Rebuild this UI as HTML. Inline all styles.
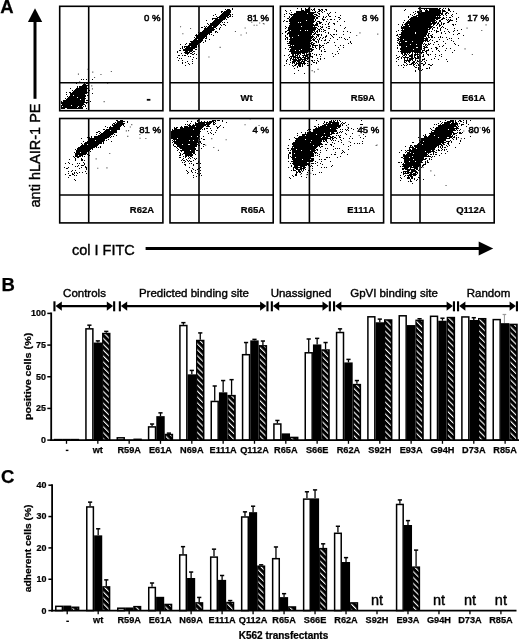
<!DOCTYPE html>
<html><head><meta charset="utf-8"><style>
html,body{margin:0;padding:0;background:#fff;width:520px;height:639px;overflow:hidden}
svg{display:block;filter:grayscale(1)}
text{font-family:"Liberation Sans", sans-serif;fill:#000}
text[font-weight=bold]{stroke:#000;stroke-width:0.25px}
</style></head><body>
<svg width="520" height="639" viewBox="0 0 520 639" font-family='"Liberation Sans", sans-serif'>
<g id="scatter">
<path d="M81 79h1v1h-1zM83 79h1v1h-1zM86 79h1v1h-1zM92 79h1v1h-1zM84 82h1v1h-1zM88 82h1v1h-1zM76 83h1v1h-1zM84 83h1v1h-1zM86 83h2v1h-2zM83 84h3v1h-3zM88 84h1v1h-1zM82 85h6v1h-6zM77 86h1v1h-1zM79 86h8v1h-8zM77 87h1v1h-1zM79 87h8v1h-8zM70 88h1v1h-1zM76 88h12v1h-12zM75 89h12v1h-12zM72 90h1v1h-1zM74 90h13v1h-13zM89 90h1v1h-1zM73 91h14v1h-14zM66 92h1v1h-1zM69 92h2v1h-2zM72 92h16v1h-16zM70 93h17v1h-17zM92 93h1v1h-1zM66 94h1v1h-1zM70 94h15v1h-15zM70 95h3v1h-3zM74 95h12v1h-12zM87 95h1v1h-1zM67 96h1v1h-1zM69 96h17v1h-17zM68 97h9v1h-9zM78 97h7v1h-7zM65 98h1v1h-1zM67 98h19v1h-19zM66 99h14v1h-14zM81 99h4v1h-4zM63 100h22v1h-22zM86 100h2v1h-2zM61 101h1v1h-1zM63 101h22v1h-22zM90 101h1v1h-1zM61 102h27v1h-27zM61 103h23v1h-23zM86 103h1v1h-1zM62 104h23v1h-23zM61 105h10v1h-10zM72 105h11v1h-11zM85 105h1v1h-1zM61 106h1v1h-1zM63 106h15v1h-15zM79 106h3v1h-3zM83 106h1v1h-1zM85 106h1v1h-1zM61 107h16v1h-16zM78 107h5v1h-5zM61 108h4v1h-4zM67 108h16v1h-16zM86 108h1v1h-1z" fill="#000"/>
<path d="M100.4 74.0h1.1v1.1h-1.1zM110.8 70.9h1.1v1.1h-1.1zM107.1 82.6h1.1v1.1h-1.1zM91.9 88.3h1.1v1.1h-1.1zM91.2 85.3h1.1v1.1h-1.1zM92.2 71.6h1.1v1.1h-1.1zM103.6 101.1h1.1v1.1h-1.1zM94.0 76.9h1.1v1.1h-1.1zM79.1 81.3h1.1v1.1h-1.1zM77.9 73.6h1.1v1.1h-1.1zM87.4 68.7h1.1v1.1h-1.1z" fill="#555"/>
<path d="M232 8h1v1h-1zM225 9h1v1h-1zM227 9h3v1h-3zM232 9h1v1h-1zM226 10h5v1h-5zM221 11h2v1h-2zM224 11h7v1h-7zM221 12h1v1h-1zM223 12h8v1h-8zM222 13h8v1h-8zM215 14h1v1h-1zM221 14h10v1h-10zM232 14h1v1h-1zM213 15h1v1h-1zM220 15h9v1h-9zM230 15h1v1h-1zM216 16h1v1h-1zM219 16h9v1h-9zM229 16h2v1h-2zM232 16h1v1h-1zM217 17h9v1h-9zM227 17h2v1h-2zM212 18h6v1h-6zM219 18h7v1h-7zM212 19h1v1h-1zM215 19h10v1h-10zM226 19h1v1h-1zM206 20h1v1h-1zM214 20h9v1h-9zM213 21h9v1h-9zM212 22h9v1h-9zM222 22h1v1h-1zM224 22h1v1h-1zM227 22h1v1h-1zM207 23h1v1h-1zM210 23h10v1h-10zM208 24h1v1h-1zM210 24h9v1h-9zM220 24h1v1h-1zM223 24h2v1h-2zM209 25h9v1h-9zM221 25h1v1h-1zM225 25h1v1h-1zM204 26h1v1h-1zM206 26h1v1h-1zM208 26h4v1h-4zM213 26h4v1h-4zM201 27h2v1h-2zM205 27h1v1h-1zM207 27h9v1h-9zM220 27h1v1h-1zM204 28h10v1h-10zM216 28h1v1h-1zM219 28h1v1h-1zM204 29h11v1h-11zM219 29h1v1h-1zM203 30h11v1h-11zM202 31h10v1h-10zM215 31h2v1h-2zM198 32h1v1h-1zM200 32h12v1h-12zM215 32h1v1h-1zM217 32h1v1h-1zM199 33h11v1h-11zM196 34h1v1h-1zM198 34h10v1h-10zM209 34h1v1h-1zM211 34h1v1h-1zM195 35h12v1h-12zM213 35h1v1h-1zM196 36h11v1h-11zM194 37h1v1h-1zM196 37h9v1h-9zM206 37h1v1h-1zM195 38h9v1h-9zM205 38h2v1h-2zM194 39h3v1h-3zM198 39h5v1h-5zM209 39h1v1h-1zM193 40h10v1h-10zM205 40h1v1h-1zM190 41h12v1h-12zM205 41h1v1h-1zM191 42h10v1h-10zM203 42h1v1h-1zM186 43h1v1h-1zM189 43h10v1h-10zM180 44h1v1h-1zM185 44h1v1h-1zM189 44h9v1h-9zM188 45h9v1h-9zM198 45h1v1h-1zM182 46h1v1h-1zM184 46h6v1h-6zM191 46h6v1h-6zM198 46h1v1h-1zM182 47h1v1h-1zM184 47h1v1h-1zM186 47h11v1h-11zM180 48h1v1h-1zM182 48h1v1h-1zM185 48h10v1h-10zM183 49h10v1h-10zM195 49h2v1h-2zM179 50h2v1h-2zM183 50h10v1h-10zM177 51h1v1h-1zM185 51h3v1h-3zM189 51h3v1h-3zM193 51h2v1h-2zM177 52h1v1h-1zM184 52h6v1h-6zM192 52h1v1h-1zM181 53h1v1h-1zM185 53h4v1h-4zM190 53h2v1h-2zM194 53h1v1h-1zM187 54h1v1h-1zM192 54h2v1h-2zM196 54h1v1h-1zM178 55h2v1h-2zM182 55h1v1h-1zM184 55h2v1h-2zM188 56h1v1h-1zM190 56h1v1h-1zM177 57h1v1h-1zM193 57h1v1h-1zM179 58h1v1h-1zM181 58h1v1h-1zM196 58h1v1h-1zM192 59h1v1h-1zM178 60h1v1h-1zM182 60h1v1h-1zM187 61h1v1h-1zM192 61h1v1h-1zM182 62h1v1h-1zM185 62h1v1h-1zM182 63h1v1h-1zM188 63h1v1h-1zM192 63h1v1h-1zM189 64h1v1h-1zM185 65h1v1h-1z" fill="#000"/>
<path d="M190.0 27.9h1.1v1.1h-1.1zM180.0 26.2h1.1v1.1h-1.1zM182.3 33.2h1.1v1.1h-1.1zM253.6 24.7h1.1v1.1h-1.1zM262.8 23.0h1.1v1.1h-1.1zM261.0 20.5h1.1v1.1h-1.1zM251.2 21.6h1.1v1.1h-1.1zM263.6 23.4h1.1v1.1h-1.1zM256.3 24.7h1.1v1.1h-1.1zM259.1 22.4h1.1v1.1h-1.1zM245.9 32.4h1.1v1.1h-1.1zM234.9 30.9h1.1v1.1h-1.1zM240.5 34.5h1.1v1.1h-1.1zM244.6 27.5h1.1v1.1h-1.1zM219.6 46.8h1.1v1.1h-1.1zM208.4 56.4h1.1v1.1h-1.1z" fill="#555"/>
<path d="M297 8h1v1h-1zM301 8h1v1h-1zM305 8h1v1h-1zM308 8h2v1h-2zM314 8h1v1h-1zM301 9h1v1h-1zM305 9h4v1h-4zM311 9h1v1h-1zM313 9h2v1h-2zM318 9h2v1h-2zM321 9h2v1h-2zM325 9h2v1h-2zM285 10h1v1h-1zM290 10h1v1h-1zM301 10h3v1h-3zM305 10h5v1h-5zM312 10h1v1h-1zM314 10h1v1h-1zM319 10h2v1h-2zM322 10h1v1h-1zM326 10h1v1h-1zM286 11h1v1h-1zM296 11h14v1h-14zM315 11h1v1h-1zM318 11h2v1h-2zM321 11h1v1h-1zM324 11h1v1h-1zM291 12h1v1h-1zM296 12h20v1h-20zM317 12h1v1h-1zM322 12h1v1h-1zM330 12h1v1h-1zM335 12h1v1h-1zM286 13h1v1h-1zM289 13h1v1h-1zM294 13h13v1h-13zM308 13h6v1h-6zM318 13h2v1h-2zM327 13h1v1h-1zM329 13h1v1h-1zM284 14h1v1h-1zM290 14h23v1h-23zM314 14h3v1h-3zM319 14h1v1h-1zM328 14h1v1h-1zM291 15h1v1h-1zM293 15h21v1h-21zM316 15h2v1h-2zM328 15h1v1h-1zM340 15h1v1h-1zM284 16h1v1h-1zM289 16h1v1h-1zM292 16h24v1h-24zM318 16h2v1h-2zM323 16h1v1h-1zM326 16h1v1h-1zM329 16h2v1h-2zM335 16h1v1h-1zM289 17h1v1h-1zM291 17h24v1h-24zM316 17h2v1h-2zM323 17h1v1h-1zM325 17h1v1h-1zM338 17h2v1h-2zM287 18h2v1h-2zM290 18h25v1h-25zM316 18h2v1h-2zM322 18h1v1h-1zM340 18h1v1h-1zM289 19h25v1h-25zM315 19h1v1h-1zM322 19h3v1h-3zM327 19h1v1h-1zM330 19h2v1h-2zM334 19h1v1h-1zM339 19h1v1h-1zM284 20h1v1h-1zM289 20h17v1h-17zM307 20h7v1h-7zM315 20h1v1h-1zM323 20h1v1h-1zM283 21h1v1h-1zM286 21h2v1h-2zM289 21h26v1h-26zM317 21h3v1h-3zM326 21h1v1h-1zM337 21h1v1h-1zM344 21h1v1h-1zM290 22h8v1h-8zM299 22h1v1h-1zM301 22h13v1h-13zM316 22h1v1h-1zM319 22h3v1h-3zM329 22h1v1h-1zM289 23h24v1h-24zM316 23h2v1h-2zM319 23h2v1h-2zM328 23h1v1h-1zM333 23h2v1h-2zM290 24h24v1h-24zM315 24h3v1h-3zM322 24h1v1h-1zM325 24h1v1h-1zM328 24h1v1h-1zM334 24h1v1h-1zM289 25h29v1h-29zM340 25h1v1h-1zM285 26h1v1h-1zM289 26h12v1h-12zM302 26h11v1h-11zM314 26h1v1h-1zM318 26h1v1h-1zM320 26h1v1h-1zM322 26h1v1h-1zM328 26h2v1h-2zM286 27h1v1h-1zM288 27h29v1h-29zM321 27h2v1h-2zM326 27h1v1h-1zM345 27h1v1h-1zM285 28h1v1h-1zM288 28h28v1h-28zM317 28h1v1h-1zM320 28h1v1h-1zM328 28h2v1h-2zM344 28h1v1h-1zM288 29h28v1h-28zM318 29h2v1h-2zM321 29h1v1h-1zM323 29h1v1h-1zM334 29h1v1h-1zM287 30h3v1h-3zM291 30h9v1h-9zM301 30h4v1h-4zM306 30h1v1h-1zM308 30h7v1h-7zM317 30h1v1h-1zM319 30h1v1h-1zM324 30h2v1h-2zM336 30h1v1h-1zM285 31h2v1h-2zM289 31h24v1h-24zM314 31h1v1h-1zM316 31h2v1h-2zM319 31h1v1h-1zM321 31h1v1h-1zM323 31h1v1h-1zM336 31h1v1h-1zM343 31h1v1h-1zM347 31h1v1h-1zM285 32h1v1h-1zM288 32h26v1h-26zM315 32h1v1h-1zM317 32h1v1h-1zM325 32h1v1h-1zM328 32h1v1h-1zM350 32h1v1h-1zM282 33h1v1h-1zM287 33h25v1h-25zM314 33h2v1h-2zM328 33h1v1h-1zM287 34h1v1h-1zM289 34h23v1h-23zM313 34h2v1h-2zM316 34h4v1h-4zM321 34h1v1h-1zM330 34h1v1h-1zM333 34h2v1h-2zM336 34h1v1h-1zM343 34h1v1h-1zM285 35h1v1h-1zM289 35h9v1h-9zM299 35h12v1h-12zM312 35h1v1h-1zM317 35h2v1h-2zM321 35h1v1h-1zM326 35h1v1h-1zM331 35h1v1h-1zM285 36h1v1h-1zM289 36h25v1h-25zM316 36h1v1h-1zM318 36h1v1h-1zM325 36h2v1h-2zM332 36h1v1h-1zM286 37h2v1h-2zM290 37h2v1h-2zM293 37h20v1h-20zM314 37h1v1h-1zM316 37h1v1h-1zM320 37h1v1h-1zM323 37h1v1h-1zM325 37h1v1h-1zM333 37h1v1h-1zM339 37h1v1h-1zM341 37h1v1h-1zM349 37h1v1h-1zM285 38h1v1h-1zM287 38h1v1h-1zM290 38h22v1h-22zM313 38h1v1h-1zM315 38h1v1h-1zM319 38h1v1h-1zM322 38h1v1h-1zM330 38h1v1h-1zM344 38h1v1h-1zM285 39h1v1h-1zM287 39h1v1h-1zM289 39h22v1h-22zM312 39h3v1h-3zM317 39h1v1h-1zM319 39h1v1h-1zM325 39h1v1h-1zM337 39h1v1h-1zM345 39h1v1h-1zM347 39h1v1h-1zM290 40h22v1h-22zM313 40h2v1h-2zM318 40h1v1h-1zM321 40h1v1h-1zM324 40h2v1h-2zM329 40h1v1h-1zM287 41h1v1h-1zM289 41h22v1h-22zM315 41h2v1h-2zM318 41h1v1h-1zM350 41h1v1h-1zM289 42h21v1h-21zM311 42h2v1h-2zM316 42h1v1h-1zM318 42h1v1h-1zM327 42h2v1h-2zM334 42h1v1h-1zM350 42h1v1h-1zM287 43h25v1h-25zM313 43h2v1h-2zM324 43h1v1h-1zM326 43h1v1h-1zM348 43h1v1h-1zM351 43h1v1h-1zM290 44h20v1h-20zM311 44h3v1h-3zM319 44h1v1h-1zM288 45h3v1h-3zM292 45h1v1h-1zM294 45h15v1h-15zM310 45h1v1h-1zM312 45h6v1h-6zM319 45h2v1h-2zM322 45h2v1h-2zM335 45h1v1h-1zM340 45h1v1h-1zM343 45h1v1h-1zM290 46h19v1h-19zM310 46h1v1h-1zM312 46h1v1h-1zM315 46h1v1h-1zM319 46h1v1h-1zM321 46h1v1h-1zM289 47h21v1h-21zM312 47h2v1h-2zM315 47h1v1h-1zM319 47h2v1h-2zM323 47h1v1h-1zM338 47h1v1h-1zM343 47h1v1h-1zM285 48h1v1h-1zM291 48h21v1h-21zM316 48h1v1h-1zM319 48h1v1h-1zM288 49h1v1h-1zM290 49h11v1h-11zM302 49h12v1h-12zM319 49h1v1h-1zM324 49h1v1h-1zM339 49h1v1h-1zM290 50h5v1h-5zM296 50h3v1h-3zM300 50h10v1h-10zM311 50h2v1h-2zM321 50h1v1h-1zM289 51h23v1h-23zM321 51h1v1h-1zM324 51h2v1h-2zM337 51h1v1h-1zM291 52h17v1h-17zM309 52h1v1h-1zM291 53h10v1h-10zM302 53h3v1h-3zM306 53h1v1h-1zM310 53h1v1h-1zM312 53h1v1h-1zM332 53h1v1h-1zM338 53h1v1h-1zM289 54h1v1h-1zM292 54h2v1h-2zM295 54h1v1h-1zM297 54h2v1h-2zM300 54h1v1h-1zM304 54h1v1h-1zM306 54h5v1h-5zM314 54h1v1h-1zM316 54h1v1h-1zM319 54h1v1h-1zM321 54h1v1h-1zM335 54h1v1h-1zM284 55h1v1h-1zM288 55h1v1h-1zM292 55h2v1h-2zM295 55h3v1h-3zM299 55h1v1h-1zM302 55h6v1h-6zM310 55h1v1h-1zM316 55h1v1h-1zM290 56h6v1h-6zM297 56h1v1h-1zM299 56h1v1h-1zM303 56h1v1h-1zM305 56h3v1h-3zM310 56h3v1h-3zM320 56h1v1h-1zM333 56h1v1h-1zM289 57h1v1h-1zM291 57h1v1h-1zM293 57h8v1h-8zM302 57h4v1h-4zM307 57h2v1h-2zM312 57h1v1h-1zM290 58h2v1h-2zM293 58h1v1h-1zM295 58h1v1h-1zM297 58h2v1h-2zM300 58h2v1h-2zM304 58h5v1h-5zM317 58h1v1h-1zM320 58h1v1h-1zM324 58h1v1h-1zM287 59h1v1h-1zM290 59h1v1h-1zM292 59h5v1h-5zM298 59h8v1h-8zM307 59h1v1h-1zM309 59h1v1h-1zM320 59h1v1h-1zM286 60h1v1h-1zM290 60h1v1h-1zM293 60h8v1h-8zM302 60h1v1h-1zM304 60h3v1h-3zM311 60h2v1h-2zM314 60h1v1h-1zM317 60h1v1h-1zM286 61h1v1h-1zM292 61h4v1h-4zM297 61h3v1h-3zM301 61h4v1h-4zM307 61h3v1h-3zM312 61h1v1h-1zM318 61h1v1h-1zM290 62h1v1h-1zM292 62h3v1h-3zM296 62h1v1h-1zM298 62h4v1h-4zM303 62h2v1h-2zM313 62h2v1h-2zM316 62h1v1h-1zM286 63h1v1h-1zM292 63h1v1h-1zM294 63h1v1h-1zM296 63h10v1h-10zM307 63h1v1h-1zM316 63h1v1h-1zM289 64h1v1h-1zM295 64h2v1h-2zM298 64h3v1h-3zM302 64h1v1h-1zM304 64h1v1h-1zM311 64h1v1h-1zM284 65h1v1h-1zM292 65h1v1h-1zM294 65h2v1h-2zM298 65h3v1h-3zM302 65h1v1h-1zM307 65h2v1h-2zM293 66h1v1h-1zM297 66h1v1h-1zM299 66h2v1h-2zM302 66h1v1h-1zM297 67h1v1h-1zM294 68h1v1h-1zM298 70h1v1h-1zM294 73h1v1h-1zM304 73h1v1h-1z" fill="#000"/>
<path d="M359.4 32.3h1.1v1.1h-1.1zM356.1 35.0h1.1v1.1h-1.1zM377.2 33.6h1.1v1.1h-1.1zM317.5 68.8h1.1v1.1h-1.1zM313.9 71.3h1.1v1.1h-1.1zM311.6 70.1h1.1v1.1h-1.1z" fill="#555"/>
<path d="M418 8h2v1h-2zM421 8h17v1h-17zM439 8h2v1h-2zM443 8h1v1h-1zM445 8h1v1h-1zM448 8h1v1h-1zM405 9h1v1h-1zM420 9h1v1h-1zM424 9h1v1h-1zM426 9h1v1h-1zM429 9h11v1h-11zM442 9h1v1h-1zM448 9h2v1h-2zM404 10h1v1h-1zM421 10h1v1h-1zM425 10h3v1h-3zM429 10h12v1h-12zM442 10h3v1h-3zM448 10h2v1h-2zM415 11h1v1h-1zM417 11h2v1h-2zM420 11h2v1h-2zM425 11h16v1h-16zM442 11h4v1h-4zM450 11h1v1h-1zM453 11h1v1h-1zM413 12h1v1h-1zM417 12h3v1h-3zM421 12h20v1h-20zM442 12h1v1h-1zM446 12h2v1h-2zM415 13h1v1h-1zM418 13h25v1h-25zM445 13h2v1h-2zM448 13h1v1h-1zM456 13h1v1h-1zM410 14h1v1h-1zM414 14h1v1h-1zM418 14h22v1h-22zM441 14h2v1h-2zM445 14h1v1h-1zM452 14h1v1h-1zM412 15h1v1h-1zM416 15h25v1h-25zM443 15h1v1h-1zM446 15h1v1h-1zM451 15h1v1h-1zM408 16h1v1h-1zM413 16h4v1h-4zM418 16h18v1h-18zM437 16h1v1h-1zM439 16h1v1h-1zM452 16h1v1h-1zM408 17h1v1h-1zM411 17h30v1h-30zM443 17h1v1h-1zM446 17h1v1h-1zM449 17h2v1h-2zM458 17h1v1h-1zM410 18h30v1h-30zM442 18h3v1h-3zM456 18h1v1h-1zM409 19h26v1h-26zM436 19h2v1h-2zM441 19h2v1h-2zM446 19h1v1h-1zM448 19h1v1h-1zM450 19h1v1h-1zM456 19h1v1h-1zM404 20h1v1h-1zM408 20h1v1h-1zM410 20h26v1h-26zM439 20h2v1h-2zM447 20h1v1h-1zM449 20h4v1h-4zM407 21h28v1h-28zM436 21h1v1h-1zM439 21h2v1h-2zM448 21h2v1h-2zM456 21h1v1h-1zM403 22h1v1h-1zM406 22h25v1h-25zM432 22h5v1h-5zM438 22h1v1h-1zM441 22h1v1h-1zM447 22h2v1h-2zM405 23h31v1h-31zM437 23h2v1h-2zM441 23h1v1h-1zM443 23h2v1h-2zM398 24h1v1h-1zM402 24h1v1h-1zM404 24h4v1h-4zM409 24h23v1h-23zM433 24h2v1h-2zM437 24h1v1h-1zM439 24h1v1h-1zM441 24h1v1h-1zM443 24h1v1h-1zM452 24h2v1h-2zM455 24h1v1h-1zM402 25h1v1h-1zM405 25h26v1h-26zM433 25h1v1h-1zM436 25h1v1h-1zM439 25h2v1h-2zM453 25h1v1h-1zM401 26h1v1h-1zM403 26h6v1h-6zM410 26h23v1h-23zM439 26h1v1h-1zM442 26h1v1h-1zM401 27h31v1h-31zM433 27h2v1h-2zM437 27h1v1h-1zM441 27h1v1h-1zM443 27h1v1h-1zM401 28h27v1h-27zM429 28h2v1h-2zM432 28h1v1h-1zM437 28h1v1h-1zM440 28h1v1h-1zM445 28h1v1h-1zM454 28h1v1h-1zM402 29h1v1h-1zM404 29h26v1h-26zM432 29h1v1h-1zM440 29h1v1h-1zM447 29h1v1h-1zM461 29h1v1h-1zM398 30h1v1h-1zM401 30h27v1h-27zM434 30h1v1h-1zM436 30h1v1h-1zM440 30h1v1h-1zM454 30h1v1h-1zM457 30h1v1h-1zM396 31h1v1h-1zM402 31h26v1h-26zM429 31h1v1h-1zM431 31h1v1h-1zM436 31h3v1h-3zM444 31h1v1h-1zM448 31h1v1h-1zM453 31h1v1h-1zM401 32h14v1h-14zM416 32h12v1h-12zM436 32h1v1h-1zM441 32h1v1h-1zM449 32h1v1h-1zM401 33h14v1h-14zM416 33h11v1h-11zM428 33h2v1h-2zM441 33h1v1h-1zM445 33h1v1h-1zM458 33h2v1h-2zM397 34h1v1h-1zM399 34h28v1h-28zM428 34h1v1h-1zM432 34h1v1h-1zM453 34h1v1h-1zM457 34h1v1h-1zM396 35h2v1h-2zM401 35h25v1h-25zM427 35h2v1h-2zM430 35h2v1h-2zM463 35h1v1h-1zM398 36h1v1h-1zM400 36h26v1h-26zM428 36h1v1h-1zM431 36h2v1h-2zM440 36h1v1h-1zM399 37h25v1h-25zM426 37h1v1h-1zM428 37h2v1h-2zM431 37h2v1h-2zM434 37h1v1h-1zM438 37h1v1h-1zM440 37h1v1h-1zM442 37h1v1h-1zM446 37h1v1h-1zM397 38h2v1h-2zM400 38h28v1h-28zM449 38h1v1h-1zM451 38h1v1h-1zM458 38h1v1h-1zM398 39h5v1h-5zM404 39h20v1h-20zM425 39h3v1h-3zM430 39h1v1h-1zM439 39h1v1h-1zM447 39h1v1h-1zM397 40h2v1h-2zM400 40h28v1h-28zM429 40h1v1h-1zM432 40h1v1h-1zM451 40h1v1h-1zM399 41h6v1h-6zM407 41h5v1h-5zM413 41h11v1h-11zM425 41h1v1h-1zM427 41h2v1h-2zM436 41h2v1h-2zM443 41h1v1h-1zM453 41h1v1h-1zM397 42h1v1h-1zM399 42h1v1h-1zM401 42h22v1h-22zM434 42h1v1h-1zM398 43h25v1h-25zM424 43h1v1h-1zM428 43h1v1h-1zM430 43h1v1h-1zM445 43h1v1h-1zM454 43h1v1h-1zM399 44h11v1h-11zM411 44h5v1h-5zM417 44h5v1h-5zM423 44h1v1h-1zM425 44h2v1h-2zM428 44h2v1h-2zM433 44h1v1h-1zM438 44h1v1h-1zM455 44h1v1h-1zM397 45h1v1h-1zM399 45h23v1h-23zM425 45h1v1h-1zM427 45h1v1h-1zM443 45h1v1h-1zM458 45h1v1h-1zM401 46h5v1h-5zM407 46h15v1h-15zM423 46h2v1h-2zM426 46h1v1h-1zM439 46h1v1h-1zM442 46h1v1h-1zM397 47h1v1h-1zM401 47h15v1h-15zM418 47h4v1h-4zM424 47h4v1h-4zM435 47h2v1h-2zM397 48h1v1h-1zM400 48h22v1h-22zM423 48h2v1h-2zM431 48h1v1h-1zM436 48h2v1h-2zM446 48h1v1h-1zM450 48h1v1h-1zM400 49h13v1h-13zM414 49h8v1h-8zM424 49h1v1h-1zM428 49h1v1h-1zM436 49h1v1h-1zM401 50h20v1h-20zM422 50h3v1h-3zM426 50h3v1h-3zM438 50h1v1h-1zM445 50h1v1h-1zM454 50h1v1h-1zM398 51h1v1h-1zM400 51h21v1h-21zM422 51h1v1h-1zM425 51h2v1h-2zM432 51h1v1h-1zM439 51h1v1h-1zM401 52h10v1h-10zM412 52h1v1h-1zM414 52h10v1h-10zM426 52h1v1h-1zM452 52h1v1h-1zM401 53h2v1h-2zM404 53h2v1h-2zM407 53h1v1h-1zM409 53h1v1h-1zM412 53h1v1h-1zM415 53h1v1h-1zM417 53h1v1h-1zM421 53h1v1h-1zM426 53h1v1h-1zM402 54h1v1h-1zM404 54h3v1h-3zM408 54h1v1h-1zM411 54h2v1h-2zM414 54h5v1h-5zM423 54h1v1h-1zM427 54h2v1h-2zM430 54h1v1h-1zM435 54h1v1h-1zM441 54h1v1h-1zM396 55h1v1h-1zM403 55h2v1h-2zM406 55h1v1h-1zM409 55h4v1h-4zM414 55h2v1h-2zM417 55h1v1h-1zM419 55h1v1h-1zM423 55h1v1h-1zM428 55h1v1h-1zM439 55h1v1h-1zM399 56h1v1h-1zM402 56h1v1h-1zM405 56h1v1h-1zM409 56h4v1h-4zM414 56h1v1h-1zM417 56h2v1h-2zM420 56h1v1h-1zM422 56h2v1h-2zM435 56h1v1h-1zM441 56h1v1h-1zM397 57h2v1h-2zM401 57h1v1h-1zM403 57h6v1h-6zM411 57h2v1h-2zM414 57h2v1h-2zM417 57h2v1h-2zM420 57h1v1h-1zM396 58h1v1h-1zM401 58h1v1h-1zM404 58h1v1h-1zM407 58h1v1h-1zM409 58h5v1h-5zM415 58h4v1h-4zM424 58h1v1h-1zM434 58h1v1h-1zM398 59h1v1h-1zM404 59h1v1h-1zM407 59h1v1h-1zM409 59h4v1h-4zM415 59h1v1h-1zM422 59h3v1h-3zM431 59h1v1h-1zM438 59h1v1h-1zM446 59h1v1h-1zM404 60h7v1h-7zM412 60h1v1h-1zM415 60h1v1h-1zM417 60h1v1h-1zM419 60h1v1h-1zM422 60h1v1h-1zM426 60h1v1h-1zM396 61h1v1h-1zM404 61h1v1h-1zM406 61h1v1h-1zM408 61h2v1h-2zM413 61h2v1h-2zM417 61h2v1h-2zM421 61h1v1h-1zM424 61h1v1h-1zM447 61h1v1h-1zM404 62h2v1h-2zM409 62h1v1h-1zM412 62h3v1h-3zM416 62h1v1h-1zM425 62h1v1h-1zM406 63h1v1h-1zM411 63h3v1h-3zM415 63h1v1h-1zM417 63h1v1h-1zM421 63h2v1h-2zM425 63h1v1h-1zM403 64h1v1h-1zM407 64h1v1h-1zM409 64h3v1h-3zM413 64h2v1h-2zM418 64h1v1h-1zM423 64h2v1h-2zM428 64h2v1h-2zM432 64h1v1h-1zM398 65h1v1h-1zM401 65h1v1h-1zM404 65h1v1h-1zM406 65h1v1h-1zM413 65h1v1h-1zM416 65h1v1h-1zM418 65h2v1h-2zM423 65h1v1h-1zM430 65h2v1h-2zM414 66h1v1h-1zM420 66h1v1h-1zM403 67h1v1h-1zM415 67h2v1h-2zM418 67h1v1h-1zM429 67h1v1h-1zM418 68h1v1h-1zM420 68h1v1h-1zM426 68h2v1h-2zM429 68h1v1h-1zM418 69h1v1h-1zM422 69h1v1h-1zM415 70h1v1h-1zM419 70h1v1h-1zM421 70h1v1h-1zM415 71h1v1h-1z" fill="#000"/>
<path d="M471.8 53.9h1.1v1.1h-1.1zM464.5 48.3h1.1v1.1h-1.1zM466.5 27.6h1.1v1.1h-1.1zM481.2 29.9h1.1v1.1h-1.1zM485.5 24.3h1.1v1.1h-1.1z" fill="#555"/>
<path d="M116 120h2v1h-2zM120 120h3v1h-3zM117 121h8v1h-8zM127 121h1v1h-1zM115 122h1v1h-1zM117 122h6v1h-6zM127 122h1v1h-1zM113 123h2v1h-2zM116 123h9v1h-9zM112 124h1v1h-1zM114 124h10v1h-10zM112 125h10v1h-10zM123 125h1v1h-1zM105 126h1v1h-1zM110 126h1v1h-1zM113 126h8v1h-8zM124 126h1v1h-1zM107 127h1v1h-1zM109 127h11v1h-11zM109 128h11v1h-11zM103 129h2v1h-2zM106 129h14v1h-14zM105 130h5v1h-5zM111 130h6v1h-6zM98 131h2v1h-2zM104 131h13v1h-13zM96 132h2v1h-2zM100 132h1v1h-1zM103 132h14v1h-14zM99 133h1v1h-1zM101 133h13v1h-13zM96 134h1v1h-1zM100 134h13v1h-13zM114 134h1v1h-1zM98 135h13v1h-13zM116 135h1v1h-1zM91 136h1v1h-1zM94 136h16v1h-16zM111 136h1v1h-1zM113 136h1v1h-1zM87 137h1v1h-1zM89 137h1v1h-1zM91 137h1v1h-1zM94 137h15v1h-15zM110 137h1v1h-1zM81 138h1v1h-1zM89 138h18v1h-18zM89 139h16v1h-16zM108 139h1v1h-1zM89 140h6v1h-6zM96 140h9v1h-9zM106 140h1v1h-1zM83 141h1v1h-1zM87 141h17v1h-17zM111 141h1v1h-1zM85 142h17v1h-17zM103 142h1v1h-1zM81 143h1v1h-1zM84 143h18v1h-18zM103 143h1v1h-1zM82 144h1v1h-1zM84 144h3v1h-3zM88 144h11v1h-11zM81 145h17v1h-17zM80 146h17v1h-17zM100 146h1v1h-1zM78 147h17v1h-17zM96 147h1v1h-1zM98 147h1v1h-1zM100 147h1v1h-1zM77 148h16v1h-16zM75 149h1v1h-1zM77 149h14v1h-14zM92 149h1v1h-1zM76 150h14v1h-14zM76 151h13v1h-13zM90 151h1v1h-1zM74 152h1v1h-1zM76 152h4v1h-4zM81 152h6v1h-6zM88 152h1v1h-1zM75 153h12v1h-12zM75 154h11v1h-11zM87 154h1v1h-1zM75 155h3v1h-3zM79 155h4v1h-4zM89 155h1v1h-1zM73 156h1v1h-1zM75 156h6v1h-6zM82 156h1v1h-1zM84 156h1v1h-1zM74 157h1v1h-1zM77 157h2v1h-2zM75 158h1v1h-1zM81 158h1v1h-1zM69 159h1v1h-1zM75 159h1v1h-1zM81 159h2v1h-2zM75 160h1v1h-1zM81 160h2v1h-2zM84 160h1v1h-1zM68 162h1v1h-1zM83 162h1v1h-1zM65 163h1v1h-1zM69 163h1v1h-1zM77 163h1v1h-1zM79 163h1v1h-1zM84 163h1v1h-1zM72 164h1v1h-1zM84 164h1v1h-1zM78 165h1v1h-1zM81 165h3v1h-3zM75 166h1v1h-1zM77 166h1v1h-1zM85 166h1v1h-1zM64 167h1v1h-1zM68 167h1v1h-1zM81 167h1v1h-1zM85 167h2v1h-2zM66 168h2v1h-2zM79 168h1v1h-1zM86 168h1v1h-1zM86 169h1v1h-1zM72 170h1v1h-1zM75 170h1v1h-1zM68 171h1v1h-1zM71 171h1v1h-1zM85 171h1v1h-1zM74 172h1v1h-1zM76 172h1v1h-1zM79 172h1v1h-1zM82 172h1v1h-1zM68 173h1v1h-1zM72 173h1v1h-1zM74 173h1v1h-1zM77 173h1v1h-1zM86 173h1v1h-1zM65 174h1v1h-1zM72 174h2v1h-2zM69 175h2v1h-2zM74 175h1v1h-1zM76 175h1v1h-1zM68 177h1v1h-1zM74 179h1v1h-1zM75 180h1v1h-1z" fill="#000"/>
<path d="M139.3 134.0h1.1v1.1h-1.1zM125.8 130.3h1.1v1.1h-1.1zM131.2 124.1h1.1v1.1h-1.1zM127.2 135.8h1.1v1.1h-1.1zM129.8 126.5h1.1v1.1h-1.1zM139.5 137.7h1.1v1.1h-1.1zM128.0 130.1h1.1v1.1h-1.1zM145.3 137.9h1.1v1.1h-1.1zM106.4 167.3h1.1v1.1h-1.1zM95.6 158.3h1.1v1.1h-1.1zM97.2 167.7h1.1v1.1h-1.1zM109.2 153.0h1.1v1.1h-1.1z" fill="#555"/>
<path d="M197 120h2v1h-2zM212 120h4v1h-4zM217 120h3v1h-3zM222 120h1v1h-1zM187 121h1v1h-1zM191 121h1v1h-1zM197 121h1v1h-1zM201 121h1v1h-1zM204 121h1v1h-1zM207 121h1v1h-1zM209 121h5v1h-5zM215 121h1v1h-1zM222 121h1v1h-1zM195 122h1v1h-1zM198 122h14v1h-14zM213 122h2v1h-2zM226 122h1v1h-1zM190 123h1v1h-1zM195 123h10v1h-10zM206 123h5v1h-5zM213 123h1v1h-1zM215 123h1v1h-1zM185 124h1v1h-1zM187 124h1v1h-1zM189 124h1v1h-1zM193 124h1v1h-1zM195 124h15v1h-15zM213 124h2v1h-2zM188 125h3v1h-3zM192 125h14v1h-14zM207 125h2v1h-2zM220 125h1v1h-1zM181 126h1v1h-1zM184 126h4v1h-4zM189 126h6v1h-6zM196 126h8v1h-8zM206 126h4v1h-4zM216 126h1v1h-1zM219 126h1v1h-1zM174 127h1v1h-1zM176 127h2v1h-2zM180 127h3v1h-3zM184 127h19v1h-19zM217 127h2v1h-2zM223 127h1v1h-1zM174 128h3v1h-3zM180 128h22v1h-22zM204 128h1v1h-1zM206 128h2v1h-2zM210 128h1v1h-1zM217 128h1v1h-1zM172 129h1v1h-1zM174 129h19v1h-19zM194 129h7v1h-7zM202 129h1v1h-1zM204 129h1v1h-1zM172 130h28v1h-28zM211 130h1v1h-1zM216 130h1v1h-1zM171 131h30v1h-30zM207 131h1v1h-1zM171 132h29v1h-29zM210 132h1v1h-1zM215 132h1v1h-1zM171 133h29v1h-29zM208 133h1v1h-1zM211 133h1v1h-1zM171 134h28v1h-28zM213 134h1v1h-1zM171 135h28v1h-28zM171 136h20v1h-20zM192 136h5v1h-5zM198 136h2v1h-2zM203 136h1v1h-1zM171 137h28v1h-28zM171 138h6v1h-6zM178 138h21v1h-21zM201 138h1v1h-1zM173 139h25v1h-25zM199 139h1v1h-1zM203 139h2v1h-2zM172 140h1v1h-1zM174 140h1v1h-1zM176 140h13v1h-13zM190 140h3v1h-3zM194 140h4v1h-4zM173 141h25v1h-25zM199 141h2v1h-2zM172 142h1v1h-1zM174 142h25v1h-25zM200 142h1v1h-1zM174 143h23v1h-23zM198 143h1v1h-1zM201 143h1v1h-1zM173 144h1v1h-1zM176 144h6v1h-6zM183 144h5v1h-5zM190 144h8v1h-8zM203 144h2v1h-2zM173 145h1v1h-1zM177 145h20v1h-20zM198 145h2v1h-2zM174 146h2v1h-2zM177 146h20v1h-20zM203 146h1v1h-1zM176 147h1v1h-1zM179 147h16v1h-16zM177 148h1v1h-1zM180 148h16v1h-16zM201 148h1v1h-1zM178 149h1v1h-1zM182 149h14v1h-14zM177 150h1v1h-1zM180 150h10v1h-10zM191 150h4v1h-4zM196 150h2v1h-2zM181 151h1v1h-1zM184 151h11v1h-11zM179 152h1v1h-1zM184 152h11v1h-11zM180 153h1v1h-1zM183 153h9v1h-9zM193 153h2v1h-2zM180 154h1v1h-1zM182 154h1v1h-1zM185 154h8v1h-8zM195 154h1v1h-1zM179 155h2v1h-2zM185 155h8v1h-8zM183 156h1v1h-1zM185 156h2v1h-2zM188 156h1v1h-1zM190 156h2v1h-2zM179 157h2v1h-2zM185 157h1v1h-1zM189 157h1v1h-1zM192 157h1v1h-1zM183 158h1v1h-1zM188 158h1v1h-1zM190 158h1v1h-1zM194 158h1v1h-1zM196 158h1v1h-1zM182 159h1v1h-1zM186 159h1v1h-1zM195 159h1v1h-1zM181 160h1v1h-1zM183 160h2v1h-2zM187 160h1v1h-1zM189 160h1v1h-1zM193 160h1v1h-1zM185 161h1v1h-1zM188 161h1v1h-1zM190 161h2v1h-2zM198 161h1v1h-1zM182 162h1v1h-1zM184 162h1v1h-1zM198 162h1v1h-1zM189 163h1v1h-1zM191 163h1v1h-1zM196 163h2v1h-2zM200 163h1v1h-1zM184 164h2v1h-2zM193 164h1v1h-1zM185 165h1v1h-1zM193 165h1v1h-1zM189 167h1v1h-1zM200 167h1v1h-1zM192 168h1v1h-1zM198 168h2v1h-2zM193 169h1v1h-1zM197 169h1v1h-1zM186 170h1v1h-1zM191 170h1v1h-1zM195 170h1v1h-1zM200 170h1v1h-1zM187 171h1v1h-1zM191 171h1v1h-1zM198 171h1v1h-1zM188 172h1v1h-1zM192 172h1v1h-1zM195 172h1v1h-1zM187 173h1v1h-1zM197 173h1v1h-1zM200 173h1v1h-1zM199 174h1v1h-1zM193 175h1v1h-1zM199 175h1v1h-1zM201 175h1v1h-1zM196 176h1v1h-1zM193 177h1v1h-1z" fill="#000"/>
<path d="M211.2 138.1h1.1v1.1h-1.1zM213.2 147.0h1.1v1.1h-1.1zM225.6 139.2h1.1v1.1h-1.1zM205.1 144.7h1.1v1.1h-1.1zM217.9 149.8h1.1v1.1h-1.1zM258.5 124.9h1.1v1.1h-1.1zM244.5 124.2h1.1v1.1h-1.1zM249.6 118.5h1.1v1.1h-1.1z" fill="#555"/>
<path d="M316 120h1v1h-1zM331 120h1v1h-1zM333 120h1v1h-1zM335 120h1v1h-1zM337 120h1v1h-1zM339 120h1v1h-1zM361 120h1v1h-1zM324 121h1v1h-1zM329 121h3v1h-3zM333 121h2v1h-2zM337 121h1v1h-1zM340 121h1v1h-1zM324 122h1v1h-1zM326 122h2v1h-2zM329 122h10v1h-10zM342 122h1v1h-1zM345 122h1v1h-1zM323 123h1v1h-1zM326 123h1v1h-1zM328 123h3v1h-3zM332 123h7v1h-7zM341 123h1v1h-1zM343 123h2v1h-2zM318 124h1v1h-1zM324 124h15v1h-15zM340 124h1v1h-1zM342 124h1v1h-1zM348 124h1v1h-1zM360 124h3v1h-3zM322 125h4v1h-4zM327 125h14v1h-14zM342 125h1v1h-1zM346 125h1v1h-1zM314 126h2v1h-2zM318 126h1v1h-1zM320 126h21v1h-21zM316 127h1v1h-1zM318 127h19v1h-19zM338 127h2v1h-2zM348 127h1v1h-1zM315 128h15v1h-15zM331 128h7v1h-7zM348 128h1v1h-1zM351 128h1v1h-1zM357 128h1v1h-1zM362 128h1v1h-1zM308 129h1v1h-1zM310 129h1v1h-1zM313 129h23v1h-23zM340 129h1v1h-1zM342 129h1v1h-1zM345 129h1v1h-1zM347 129h1v1h-1zM353 129h1v1h-1zM307 130h1v1h-1zM313 130h24v1h-24zM346 130h1v1h-1zM348 130h1v1h-1zM309 131h2v1h-2zM313 131h24v1h-24zM340 131h1v1h-1zM342 131h1v1h-1zM301 132h1v1h-1zM305 132h1v1h-1zM307 132h23v1h-23zM331 132h3v1h-3zM337 132h1v1h-1zM339 132h1v1h-1zM341 132h1v1h-1zM297 133h1v1h-1zM305 133h1v1h-1zM307 133h17v1h-17zM325 133h5v1h-5zM331 133h4v1h-4zM336 133h2v1h-2zM345 133h1v1h-1zM352 133h1v1h-1zM302 134h14v1h-14zM317 134h15v1h-15zM346 134h1v1h-1zM363 134h1v1h-1zM297 135h1v1h-1zM302 135h3v1h-3zM306 135h24v1h-24zM336 135h1v1h-1zM338 135h1v1h-1zM340 135h1v1h-1zM299 136h23v1h-23zM323 136h2v1h-2zM326 136h5v1h-5zM332 136h2v1h-2zM339 136h1v1h-1zM350 136h1v1h-1zM365 136h1v1h-1zM294 137h1v1h-1zM298 137h23v1h-23zM322 137h6v1h-6zM330 137h3v1h-3zM334 137h2v1h-2zM339 137h2v1h-2zM360 137h1v1h-1zM295 138h36v1h-36zM332 138h2v1h-2zM336 138h1v1h-1zM343 138h1v1h-1zM349 138h1v1h-1zM352 138h1v1h-1zM363 138h1v1h-1zM289 139h1v1h-1zM296 139h9v1h-9zM306 139h21v1h-21zM330 139h1v1h-1zM332 139h1v1h-1zM340 139h1v1h-1zM295 140h16v1h-16zM312 140h10v1h-10zM323 140h1v1h-1zM325 140h2v1h-2zM331 140h1v1h-1zM333 140h1v1h-1zM335 140h1v1h-1zM341 140h1v1h-1zM295 141h27v1h-27zM323 141h2v1h-2zM326 141h1v1h-1zM338 141h1v1h-1zM362 141h1v1h-1zM293 142h17v1h-17zM311 142h10v1h-10zM327 142h1v1h-1zM332 142h1v1h-1zM341 142h1v1h-1zM350 142h1v1h-1zM292 143h30v1h-30zM334 143h1v1h-1zM354 143h1v1h-1zM357 143h1v1h-1zM359 143h1v1h-1zM362 143h1v1h-1zM292 144h31v1h-31zM325 144h2v1h-2zM330 144h2v1h-2zM343 144h1v1h-1zM288 145h1v1h-1zM293 145h20v1h-20zM314 145h6v1h-6zM331 145h1v1h-1zM350 145h1v1h-1zM292 146h26v1h-26zM319 146h1v1h-1zM321 146h2v1h-2zM333 146h1v1h-1zM348 146h1v1h-1zM292 147h1v1h-1zM294 147h15v1h-15zM310 147h7v1h-7zM320 147h1v1h-1zM287 148h2v1h-2zM291 148h25v1h-25zM325 148h1v1h-1zM327 148h1v1h-1zM335 148h1v1h-1zM337 148h1v1h-1zM339 148h1v1h-1zM291 149h5v1h-5zM297 149h18v1h-18zM316 149h2v1h-2zM333 149h1v1h-1zM348 149h1v1h-1zM288 150h1v1h-1zM290 150h1v1h-1zM292 150h9v1h-9zM302 150h8v1h-8zM311 150h5v1h-5zM317 150h1v1h-1zM320 150h1v1h-1zM326 150h1v1h-1zM342 150h1v1h-1zM292 151h23v1h-23zM343 151h1v1h-1zM289 152h2v1h-2zM292 152h21v1h-21zM314 152h3v1h-3zM320 152h1v1h-1zM335 152h1v1h-1zM342 152h1v1h-1zM344 152h1v1h-1zM289 153h2v1h-2zM292 153h2v1h-2zM295 153h19v1h-19zM315 153h1v1h-1zM317 153h1v1h-1zM341 153h1v1h-1zM288 154h1v1h-1zM292 154h22v1h-22zM319 154h1v1h-1zM331 154h1v1h-1zM334 154h2v1h-2zM347 154h1v1h-1zM288 155h1v1h-1zM292 155h22v1h-22zM315 155h1v1h-1zM317 155h1v1h-1zM288 156h1v1h-1zM290 156h1v1h-1zM292 156h22v1h-22zM319 156h1v1h-1zM340 156h1v1h-1zM288 157h1v1h-1zM291 157h4v1h-4zM296 157h15v1h-15zM326 157h2v1h-2zM329 157h1v1h-1zM337 157h1v1h-1zM288 158h1v1h-1zM292 158h22v1h-22zM292 159h10v1h-10zM303 159h7v1h-7zM311 159h3v1h-3zM319 159h1v1h-1zM321 159h1v1h-1zM324 159h2v1h-2zM293 160h21v1h-21zM288 161h1v1h-1zM291 161h18v1h-18zM310 161h3v1h-3zM315 161h1v1h-1zM321 161h1v1h-1zM330 161h1v1h-1zM293 162h14v1h-14zM317 162h1v1h-1zM290 163h1v1h-1zM292 163h18v1h-18zM311 163h3v1h-3zM315 163h1v1h-1zM320 163h1v1h-1zM293 164h16v1h-16zM322 164h1v1h-1zM291 165h1v1h-1zM294 165h13v1h-13zM308 165h1v1h-1zM311 165h1v1h-1zM317 165h1v1h-1zM332 165h1v1h-1zM291 166h1v1h-1zM294 166h4v1h-4zM300 166h5v1h-5zM310 166h1v1h-1zM312 166h1v1h-1zM331 166h1v1h-1zM288 167h1v1h-1zM293 167h9v1h-9zM303 167h3v1h-3zM321 167h1v1h-1zM324 167h1v1h-1zM326 167h1v1h-1zM293 168h1v1h-1zM295 168h3v1h-3zM300 168h5v1h-5zM312 168h1v1h-1zM293 169h1v1h-1zM296 169h6v1h-6zM303 169h1v1h-1zM305 169h1v1h-1zM291 170h1v1h-1zM293 170h3v1h-3zM298 170h2v1h-2zM301 170h1v1h-1zM303 170h1v1h-1zM308 170h1v1h-1zM312 170h1v1h-1zM296 171h1v1h-1zM298 171h3v1h-3zM302 171h1v1h-1zM296 172h2v1h-2zM299 172h2v1h-2zM307 172h1v1h-1zM309 172h1v1h-1zM319 172h1v1h-1zM321 172h1v1h-1zM296 173h1v1h-1zM301 173h1v1h-1zM295 174h2v1h-2zM307 174h1v1h-1zM313 174h1v1h-1zM315 174h1v1h-1zM292 175h1v1h-1zM295 175h2v1h-2zM293 176h1v1h-1zM301 176h1v1h-1zM289 177h1v1h-1zM306 177h1v1h-1zM290 178h1v1h-1z" fill="#000"/>
<path d="M376.5 144.5h1.1v1.1h-1.1zM375.6 144.9h1.1v1.1h-1.1zM358.7 135.0h1.1v1.1h-1.1zM348.6 140.9h1.1v1.1h-1.1zM347.2 126.7h1.1v1.1h-1.1zM306.3 174.1h1.1v1.1h-1.1zM310.2 172.7h1.1v1.1h-1.1zM300.0 174.0h1.1v1.1h-1.1z" fill="#555"/>
<path d="M445 120h1v1h-1zM450 120h4v1h-4zM455 120h1v1h-1zM459 120h2v1h-2zM463 120h1v1h-1zM466 120h1v1h-1zM470 120h1v1h-1zM440 121h1v1h-1zM447 121h7v1h-7zM455 121h1v1h-1zM458 121h1v1h-1zM460 121h2v1h-2zM466 121h1v1h-1zM442 122h1v1h-1zM444 122h7v1h-7zM452 122h2v1h-2zM455 122h2v1h-2zM463 122h1v1h-1zM466 122h1v1h-1zM438 123h1v1h-1zM441 123h1v1h-1zM444 123h6v1h-6zM451 123h7v1h-7zM459 123h1v1h-1zM466 123h1v1h-1zM434 124h1v1h-1zM436 124h1v1h-1zM440 124h1v1h-1zM442 124h16v1h-16zM461 124h3v1h-3zM468 124h1v1h-1zM438 125h18v1h-18zM457 125h1v1h-1zM461 125h1v1h-1zM438 126h19v1h-19zM458 126h1v1h-1zM466 126h1v1h-1zM433 127h1v1h-1zM436 127h18v1h-18zM456 127h2v1h-2zM470 127h1v1h-1zM430 128h1v1h-1zM435 128h24v1h-24zM431 129h1v1h-1zM435 129h13v1h-13zM449 129h6v1h-6zM456 129h1v1h-1zM460 129h1v1h-1zM432 130h24v1h-24zM457 130h1v1h-1zM459 130h1v1h-1zM431 131h1v1h-1zM434 131h19v1h-19zM471 131h1v1h-1zM431 132h23v1h-23zM457 132h1v1h-1zM459 132h2v1h-2zM462 132h1v1h-1zM429 133h23v1h-23zM453 133h4v1h-4zM459 133h3v1h-3zM425 134h1v1h-1zM430 134h22v1h-22zM453 134h2v1h-2zM423 135h1v1h-1zM425 135h1v1h-1zM429 135h5v1h-5zM435 135h16v1h-16zM452 135h1v1h-1zM456 135h1v1h-1zM424 136h3v1h-3zM428 136h25v1h-25zM454 136h1v1h-1zM470 136h1v1h-1zM418 137h1v1h-1zM424 137h14v1h-14zM439 137h8v1h-8zM449 137h3v1h-3zM453 137h2v1h-2zM456 137h1v1h-1zM458 137h1v1h-1zM421 138h29v1h-29zM452 138h1v1h-1zM456 138h1v1h-1zM461 138h1v1h-1zM464 138h1v1h-1zM421 139h25v1h-25zM453 139h1v1h-1zM456 139h1v1h-1zM419 140h1v1h-1zM421 140h25v1h-25zM450 140h1v1h-1zM460 140h1v1h-1zM420 141h3v1h-3zM424 141h20v1h-20zM446 141h4v1h-4zM451 141h1v1h-1zM460 141h1v1h-1zM412 142h2v1h-2zM419 142h27v1h-27zM448 142h1v1h-1zM451 142h1v1h-1zM418 143h2v1h-2zM421 143h20v1h-20zM442 143h2v1h-2zM447 143h2v1h-2zM459 143h1v1h-1zM417 144h5v1h-5zM423 144h19v1h-19zM443 144h2v1h-2zM448 144h1v1h-1zM410 145h2v1h-2zM414 145h25v1h-25zM441 145h2v1h-2zM446 145h1v1h-1zM449 145h1v1h-1zM405 146h1v1h-1zM410 146h1v1h-1zM412 146h1v1h-1zM414 146h23v1h-23zM438 146h1v1h-1zM440 146h1v1h-1zM442 146h1v1h-1zM447 146h1v1h-1zM409 147h5v1h-5zM415 147h21v1h-21zM438 147h1v1h-1zM440 147h1v1h-1zM442 147h1v1h-1zM444 147h2v1h-2zM455 147h1v1h-1zM409 148h1v1h-1zM412 148h4v1h-4zM417 148h18v1h-18zM441 148h1v1h-1zM409 149h2v1h-2zM412 149h23v1h-23zM438 149h1v1h-1zM442 149h1v1h-1zM444 149h1v1h-1zM446 149h1v1h-1zM401 150h1v1h-1zM405 150h1v1h-1zM407 150h24v1h-24zM432 150h2v1h-2zM436 150h1v1h-1zM438 150h2v1h-2zM441 150h1v1h-1zM444 150h1v1h-1zM406 151h1v1h-1zM409 151h16v1h-16zM426 151h9v1h-9zM447 151h1v1h-1zM399 152h1v1h-1zM405 152h1v1h-1zM407 152h3v1h-3zM411 152h20v1h-20zM433 152h1v1h-1zM435 152h2v1h-2zM407 153h6v1h-6zM414 153h13v1h-13zM428 153h1v1h-1zM433 153h1v1h-1zM441 153h1v1h-1zM445 153h1v1h-1zM403 154h2v1h-2zM406 154h22v1h-22zM430 154h2v1h-2zM433 154h1v1h-1zM435 154h2v1h-2zM403 155h24v1h-24zM428 155h1v1h-1zM439 155h1v1h-1zM403 156h9v1h-9zM413 156h18v1h-18zM432 156h1v1h-1zM434 156h1v1h-1zM401 157h2v1h-2zM404 157h5v1h-5zM410 157h14v1h-14zM431 157h1v1h-1zM403 158h21v1h-21zM425 158h2v1h-2zM429 158h1v1h-1zM404 159h9v1h-9zM414 159h12v1h-12zM429 159h1v1h-1zM431 159h1v1h-1zM404 160h19v1h-19zM427 160h1v1h-1zM404 161h5v1h-5zM410 161h5v1h-5zM416 161h6v1h-6zM425 161h1v1h-1zM427 161h1v1h-1zM398 162h2v1h-2zM401 162h1v1h-1zM404 162h19v1h-19zM425 162h1v1h-1zM427 162h2v1h-2zM403 163h1v1h-1zM405 163h15v1h-15zM425 163h1v1h-1zM402 164h19v1h-19zM423 164h3v1h-3zM403 165h18v1h-18zM422 165h2v1h-2zM400 166h1v1h-1zM402 166h10v1h-10zM413 166h6v1h-6zM420 166h1v1h-1zM422 166h1v1h-1zM404 167h5v1h-5zM410 167h8v1h-8zM421 167h1v1h-1zM402 168h6v1h-6zM410 168h1v1h-1zM414 168h4v1h-4zM402 169h2v1h-2zM405 169h10v1h-10zM416 169h2v1h-2zM419 169h1v1h-1zM407 170h3v1h-3zM411 170h5v1h-5zM418 170h1v1h-1zM403 171h6v1h-6zM411 171h6v1h-6zM401 172h1v1h-1zM403 172h1v1h-1zM405 172h1v1h-1zM407 172h6v1h-6zM415 172h3v1h-3zM403 173h6v1h-6zM410 173h2v1h-2zM413 173h3v1h-3zM417 173h1v1h-1zM403 174h1v1h-1zM409 174h8v1h-8zM400 175h1v1h-1zM405 175h1v1h-1zM407 175h5v1h-5zM413 175h3v1h-3zM419 175h1v1h-1zM404 176h1v1h-1zM408 176h1v1h-1zM410 176h3v1h-3zM400 177h1v1h-1zM407 177h3v1h-3zM411 177h2v1h-2zM418 177h2v1h-2zM401 178h1v1h-1zM407 178h3v1h-3zM411 178h2v1h-2zM414 178h1v1h-1zM419 178h1v1h-1zM410 179h1v1h-1zM414 179h1v1h-1zM417 179h1v1h-1zM423 179h1v1h-1zM400 180h1v1h-1zM410 180h1v1h-1zM416 180h1v1h-1zM408 181h1v1h-1zM410 181h2v1h-2zM412 183h1v1h-1z" fill="#000"/>
<path d="M463.2 130.5h1.1v1.1h-1.1zM460.8 138.1h1.1v1.1h-1.1zM479.7 127.2h1.1v1.1h-1.1zM468.1 130.2h1.1v1.1h-1.1zM471.7 126.8h1.1v1.1h-1.1zM445.5 184.9h1.1v1.1h-1.1zM434.0 174.7h1.1v1.1h-1.1zM422.6 167.0h1.1v1.1h-1.1zM430.3 170.3h1.1v1.1h-1.1z" fill="#555"/>
</g>
<rect x="59.70" y="6.30" width="103.2" height="104.4" fill="none" stroke="#000" stroke-width="1.6"/>
<line x1="88.70" y1="6.30" x2="88.70" y2="110.70" stroke="#000" stroke-width="1.6" />
<line x1="59.70" y1="82.80" x2="162.90" y2="82.80" stroke="#000" stroke-width="1.6" />
<rect x="59.70" y="118.50" width="103.2" height="104.4" fill="none" stroke="#000" stroke-width="1.6"/>
<line x1="88.70" y1="118.50" x2="88.70" y2="222.90" stroke="#000" stroke-width="1.6" />
<line x1="59.70" y1="195.00" x2="162.90" y2="195.00" stroke="#000" stroke-width="1.6" />
<rect x="170.00" y="6.30" width="103.2" height="104.4" fill="none" stroke="#000" stroke-width="1.6"/>
<line x1="199.00" y1="6.30" x2="199.00" y2="110.70" stroke="#000" stroke-width="1.6" />
<line x1="170.00" y1="82.80" x2="273.20" y2="82.80" stroke="#000" stroke-width="1.6" />
<rect x="170.00" y="118.50" width="103.2" height="104.4" fill="none" stroke="#000" stroke-width="1.6"/>
<line x1="199.00" y1="118.50" x2="199.00" y2="222.90" stroke="#000" stroke-width="1.6" />
<line x1="170.00" y1="195.00" x2="273.20" y2="195.00" stroke="#000" stroke-width="1.6" />
<rect x="280.40" y="6.30" width="103.2" height="104.4" fill="none" stroke="#000" stroke-width="1.6"/>
<line x1="309.40" y1="6.30" x2="309.40" y2="110.70" stroke="#000" stroke-width="1.6" />
<line x1="280.40" y1="82.80" x2="383.60" y2="82.80" stroke="#000" stroke-width="1.6" />
<rect x="280.40" y="118.50" width="103.2" height="104.4" fill="none" stroke="#000" stroke-width="1.6"/>
<line x1="309.40" y1="118.50" x2="309.40" y2="222.90" stroke="#000" stroke-width="1.6" />
<line x1="280.40" y1="195.00" x2="383.60" y2="195.00" stroke="#000" stroke-width="1.6" />
<rect x="391.00" y="6.30" width="103.2" height="104.4" fill="none" stroke="#000" stroke-width="1.6"/>
<line x1="420.00" y1="6.30" x2="420.00" y2="110.70" stroke="#000" stroke-width="1.6" />
<line x1="391.00" y1="82.80" x2="494.20" y2="82.80" stroke="#000" stroke-width="1.6" />
<rect x="391.00" y="118.50" width="103.2" height="104.4" fill="none" stroke="#000" stroke-width="1.6"/>
<line x1="420.00" y1="118.50" x2="420.00" y2="222.90" stroke="#000" stroke-width="1.6" />
<line x1="391.00" y1="195.00" x2="494.20" y2="195.00" stroke="#000" stroke-width="1.6" />
<text x="160.60" y="20.90" font-size="9.6" font-weight="normal" text-anchor="end"  stroke="#000" stroke-width="0.5">0 %</text>
<rect x="146.80" y="98.90" width="3.60" height="1.80" fill="#000" />
<text x="269.00" y="20.90" font-size="9.6" font-weight="normal" text-anchor="end"  stroke="#000" stroke-width="0.5">81 %</text>
<text transform="translate(252.60,100.80) scale(0.955,1)" font-size="9.9" font-weight="bold" text-anchor="end">Wt</text>
<text x="378.60" y="20.90" font-size="9.6" font-weight="normal" text-anchor="end"  stroke="#000" stroke-width="0.5">8 %</text>
<text transform="translate(375.00,100.80) scale(0.955,1)" font-size="9.9" font-weight="bold" text-anchor="end">R59A</text>
<text x="489.00" y="20.90" font-size="9.6" font-weight="normal" text-anchor="end"  stroke="#000" stroke-width="0.5">17 %</text>
<text transform="translate(485.60,100.80) scale(0.955,1)" font-size="9.9" font-weight="bold" text-anchor="end">E61A</text>
<text x="161.00" y="133.10" font-size="9.6" font-weight="normal" text-anchor="end"  stroke="#000" stroke-width="0.5">81 %</text>
<text transform="translate(154.00,213.00) scale(0.955,1)" font-size="9.9" font-weight="bold" text-anchor="end">R62A</text>
<text x="269.00" y="133.10" font-size="9.6" font-weight="normal" text-anchor="end"  stroke="#000" stroke-width="0.5">4 %</text>
<text transform="translate(265.00,213.00) scale(0.955,1)" font-size="9.9" font-weight="bold" text-anchor="end">R65A</text>
<text x="379.40" y="133.10" font-size="9.6" font-weight="normal" text-anchor="end"  stroke="#000" stroke-width="0.5">45 %</text>
<text transform="translate(375.00,213.00) scale(0.955,1)" font-size="9.9" font-weight="bold" text-anchor="end">E111A</text>
<text x="490.40" y="133.10" font-size="9.6" font-weight="normal" text-anchor="end"  stroke="#000" stroke-width="0.5">80 %</text>
<text transform="translate(485.60,213.00) scale(0.955,1)" font-size="9.9" font-weight="bold" text-anchor="end">Q112A</text>
<text x="0.30" y="12.60" font-size="18.5" font-weight="bold" text-anchor="start" >A</text>
<line x1="35.00" y1="20.00" x2="35.00" y2="98.80" stroke="#000" stroke-width="3" />
<polygon points="35.0,8.2 27.9,21.9 42.2,21.9" fill="#000" />
<text transform="translate(39.7,207.5) rotate(-90)" font-size="14.5" font-weight="normal" stroke="#000" stroke-width="0.4">anti hLAIR-1 PE</text>
<text x="72.00" y="254.60" font-size="14.5" font-weight="normal" text-anchor="start"  stroke="#000" stroke-width="0.4">col I FITC</text>
<line x1="145.60" y1="248.50" x2="480.00" y2="248.50" stroke="#000" stroke-width="3" />
<polygon points="493.2,248.5 478.7,241.5 478.7,255.6" fill="#000" />
<defs><pattern id="hatch" patternUnits="userSpaceOnUse" width="4.17" height="10" patternTransform="rotate(-45)"><rect x="0" y="0" width="4.17" height="10" fill="#000"/><rect x="0" y="0" width="1.1" height="10" fill="#fff"/></pattern></defs>
<rect x="54.61" y="439.58" width="6.93" height="0.52" fill="#fff" stroke="#000" stroke-width="1.5"/>
<rect x="62.29" y="438.83" width="8.43" height="1.27" fill="#000" />
<rect x="70.72" y="438.83" width="8.43" height="1.27" fill="#000" />
<line x1="89.40" y1="325.18" x2="89.40" y2="328.10" stroke="#000" stroke-width="1.3" />
<line x1="87.30" y1="325.18" x2="91.50" y2="325.18" stroke="#000" stroke-width="1.5" />
<rect x="85.94" y="328.85" width="6.93" height="111.25" fill="#fff" stroke="#000" stroke-width="1.5"/>
<line x1="97.83" y1="340.89" x2="97.83" y2="342.54" stroke="#000" stroke-width="1.3" />
<line x1="95.73" y1="340.89" x2="99.93" y2="340.89" stroke="#000" stroke-width="1.5" />
<rect x="93.62" y="342.54" width="8.43" height="97.56" fill="#000" />
<line x1="106.26" y1="331.39" x2="106.26" y2="332.79" stroke="#000" stroke-width="1.3" />
<line x1="104.16" y1="331.39" x2="108.36" y2="331.39" stroke="#000" stroke-width="1.5" />
<rect x="102.05" y="332.79" width="8.43" height="107.31" fill="#000" />
<rect x="103.25" y="334.19" width="5.53" height="105.91" fill="url(#hatch)" />
<rect x="117.27" y="437.81" width="6.93" height="2.29" fill="#fff" stroke="#000" stroke-width="1.5"/>
<rect x="124.94" y="439.72" width="8.43" height="0.38" fill="#000" />
<rect x="133.38" y="438.58" width="8.43" height="1.52" fill="#000" />
<line x1="152.06" y1="424.01" x2="152.06" y2="426.16" stroke="#000" stroke-width="1.3" />
<line x1="149.96" y1="424.01" x2="154.16" y2="424.01" stroke="#000" stroke-width="1.5" />
<rect x="148.59" y="426.91" width="6.93" height="13.19" fill="#fff" stroke="#000" stroke-width="1.5"/>
<line x1="160.49" y1="412.86" x2="160.49" y2="416.15" stroke="#000" stroke-width="1.3" />
<line x1="158.39" y1="412.86" x2="162.59" y2="412.86" stroke="#000" stroke-width="1.5" />
<rect x="156.28" y="416.15" width="8.43" height="23.95" fill="#000" />
<line x1="168.92" y1="433.13" x2="168.92" y2="433.77" stroke="#000" stroke-width="1.3" />
<line x1="166.82" y1="433.13" x2="171.02" y2="433.13" stroke="#000" stroke-width="1.5" />
<rect x="164.70" y="433.77" width="8.43" height="6.33" fill="#000" />
<rect x="165.90" y="435.17" width="5.53" height="4.93" fill="url(#hatch)" />
<line x1="183.39" y1="322.65" x2="183.39" y2="324.80" stroke="#000" stroke-width="1.3" />
<line x1="181.29" y1="322.65" x2="185.49" y2="322.65" stroke="#000" stroke-width="1.5" />
<rect x="179.92" y="325.55" width="6.93" height="114.55" fill="#fff" stroke="#000" stroke-width="1.5"/>
<line x1="191.82" y1="370.42" x2="191.82" y2="374.34" stroke="#000" stroke-width="1.3" />
<line x1="189.72" y1="370.42" x2="193.92" y2="370.42" stroke="#000" stroke-width="1.5" />
<rect x="187.60" y="374.34" width="8.43" height="65.76" fill="#000" />
<line x1="200.25" y1="332.91" x2="200.25" y2="339.75" stroke="#000" stroke-width="1.3" />
<line x1="198.15" y1="332.91" x2="202.35" y2="332.91" stroke="#000" stroke-width="1.5" />
<rect x="196.03" y="339.75" width="8.43" height="100.35" fill="#000" />
<rect x="197.23" y="341.15" width="5.53" height="98.95" fill="url(#hatch)" />
<line x1="214.72" y1="386.00" x2="214.72" y2="400.70" stroke="#000" stroke-width="1.3" />
<line x1="212.62" y1="386.00" x2="216.82" y2="386.00" stroke="#000" stroke-width="1.5" />
<rect x="211.25" y="401.45" width="6.93" height="38.65" fill="#fff" stroke="#000" stroke-width="1.5"/>
<line x1="223.15" y1="380.55" x2="223.15" y2="392.33" stroke="#000" stroke-width="1.3" />
<line x1="221.05" y1="380.55" x2="225.25" y2="380.55" stroke="#000" stroke-width="1.5" />
<rect x="218.93" y="392.33" width="8.43" height="47.77" fill="#000" />
<line x1="231.58" y1="379.66" x2="231.58" y2="394.87" stroke="#000" stroke-width="1.3" />
<line x1="229.48" y1="379.66" x2="233.68" y2="379.66" stroke="#000" stroke-width="1.5" />
<rect x="227.36" y="394.87" width="8.43" height="45.23" fill="#000" />
<rect x="228.56" y="396.27" width="5.53" height="43.83" fill="url(#hatch)" />
<line x1="246.05" y1="342.54" x2="246.05" y2="353.94" stroke="#000" stroke-width="1.3" />
<line x1="243.95" y1="342.54" x2="248.15" y2="342.54" stroke="#000" stroke-width="1.5" />
<rect x="242.58" y="354.69" width="6.93" height="85.41" fill="#fff" stroke="#000" stroke-width="1.5"/>
<line x1="254.48" y1="339.37" x2="254.48" y2="340.39" stroke="#000" stroke-width="1.3" />
<line x1="252.38" y1="339.37" x2="256.58" y2="339.37" stroke="#000" stroke-width="1.5" />
<rect x="250.26" y="340.39" width="8.43" height="99.71" fill="#000" />
<line x1="262.91" y1="341.02" x2="262.91" y2="345.07" stroke="#000" stroke-width="1.3" />
<line x1="260.81" y1="341.02" x2="265.01" y2="341.02" stroke="#000" stroke-width="1.5" />
<rect x="258.69" y="345.07" width="8.43" height="95.03" fill="#000" />
<rect x="259.89" y="346.47" width="5.53" height="93.63" fill="url(#hatch)" />
<line x1="277.38" y1="420.46" x2="277.38" y2="423.25" stroke="#000" stroke-width="1.3" />
<line x1="275.28" y1="420.46" x2="279.48" y2="420.46" stroke="#000" stroke-width="1.5" />
<rect x="273.92" y="424.00" width="6.93" height="16.10" fill="#fff" stroke="#000" stroke-width="1.5"/>
<rect x="281.60" y="433.38" width="8.43" height="6.72" fill="#000" />
<rect x="290.03" y="436.68" width="8.43" height="3.42" fill="#000" />
<rect x="291.23" y="438.08" width="5.53" height="2.02" fill="url(#hatch)" />
<line x1="308.71" y1="338.99" x2="308.71" y2="352.04" stroke="#000" stroke-width="1.3" />
<line x1="306.61" y1="338.99" x2="310.81" y2="338.99" stroke="#000" stroke-width="1.5" />
<rect x="305.25" y="352.79" width="6.93" height="87.31" fill="#fff" stroke="#000" stroke-width="1.5"/>
<line x1="317.14" y1="338.36" x2="317.14" y2="344.44" stroke="#000" stroke-width="1.3" />
<line x1="315.04" y1="338.36" x2="319.24" y2="338.36" stroke="#000" stroke-width="1.5" />
<rect x="312.93" y="344.44" width="8.43" height="95.66" fill="#000" />
<line x1="325.57" y1="342.54" x2="325.57" y2="349.26" stroke="#000" stroke-width="1.3" />
<line x1="323.47" y1="342.54" x2="327.67" y2="342.54" stroke="#000" stroke-width="1.5" />
<rect x="321.36" y="349.26" width="8.43" height="90.84" fill="#000" />
<rect x="322.56" y="350.66" width="5.53" height="89.44" fill="url(#hatch)" />
<line x1="340.04" y1="328.86" x2="340.04" y2="331.77" stroke="#000" stroke-width="1.3" />
<line x1="337.94" y1="328.86" x2="342.14" y2="328.86" stroke="#000" stroke-width="1.5" />
<rect x="336.57" y="332.52" width="6.93" height="107.58" fill="#fff" stroke="#000" stroke-width="1.5"/>
<line x1="348.47" y1="359.39" x2="348.47" y2="362.43" stroke="#000" stroke-width="1.3" />
<line x1="346.37" y1="359.39" x2="350.57" y2="359.39" stroke="#000" stroke-width="1.5" />
<rect x="344.25" y="362.43" width="8.43" height="77.67" fill="#000" />
<line x1="356.90" y1="380.55" x2="356.90" y2="383.85" stroke="#000" stroke-width="1.3" />
<line x1="354.80" y1="380.55" x2="359.00" y2="380.55" stroke="#000" stroke-width="1.5" />
<rect x="352.69" y="383.85" width="8.43" height="56.25" fill="#000" />
<rect x="353.88" y="385.25" width="5.53" height="54.85" fill="url(#hatch)" />
<rect x="367.90" y="316.81" width="6.93" height="123.29" fill="#fff" stroke="#000" stroke-width="1.5"/>
<line x1="379.80" y1="319.10" x2="379.80" y2="322.27" stroke="#000" stroke-width="1.3" />
<line x1="377.70" y1="319.10" x2="381.90" y2="319.10" stroke="#000" stroke-width="1.5" />
<rect x="375.58" y="322.27" width="8.43" height="117.83" fill="#000" />
<rect x="384.01" y="319.23" width="8.43" height="120.87" fill="#000" />
<rect x="385.21" y="320.63" width="5.53" height="119.47" fill="url(#hatch)" />
<rect x="399.24" y="315.80" width="6.93" height="124.30" fill="#fff" stroke="#000" stroke-width="1.5"/>
<rect x="406.92" y="325.06" width="8.43" height="115.04" fill="#000" />
<line x1="419.56" y1="318.72" x2="419.56" y2="319.61" stroke="#000" stroke-width="1.3" />
<line x1="417.46" y1="318.72" x2="421.66" y2="318.72" stroke="#000" stroke-width="1.5" />
<rect x="415.35" y="319.61" width="8.43" height="120.49" fill="#000" />
<rect x="416.55" y="321.01" width="5.53" height="119.09" fill="url(#hatch)" />
<rect x="430.56" y="316.30" width="6.93" height="123.80" fill="#fff" stroke="#000" stroke-width="1.5"/>
<line x1="442.46" y1="318.21" x2="442.46" y2="320.75" stroke="#000" stroke-width="1.3" />
<line x1="440.36" y1="318.21" x2="444.56" y2="318.21" stroke="#000" stroke-width="1.5" />
<rect x="438.25" y="320.75" width="8.43" height="119.35" fill="#000" />
<rect x="446.68" y="316.82" width="8.43" height="123.28" fill="#000" />
<rect x="447.88" y="318.22" width="5.53" height="121.88" fill="url(#hatch)" />
<rect x="461.89" y="316.94" width="6.93" height="123.16" fill="#fff" stroke="#000" stroke-width="1.5"/>
<line x1="473.79" y1="317.71" x2="473.79" y2="319.99" stroke="#000" stroke-width="1.3" />
<line x1="471.69" y1="317.71" x2="475.89" y2="317.71" stroke="#000" stroke-width="1.5" />
<rect x="469.57" y="319.99" width="8.43" height="120.11" fill="#000" />
<rect x="478.00" y="317.96" width="8.43" height="122.14" fill="#000" />
<rect x="479.20" y="319.36" width="5.53" height="120.74" fill="url(#hatch)" />
<rect x="493.23" y="319.60" width="6.93" height="120.50" fill="#fff" stroke="#000" stroke-width="1.5"/>
<rect x="500.91" y="323.16" width="8.43" height="116.94" fill="#000" />
<rect x="509.34" y="323.66" width="8.43" height="116.44" fill="#000" />
<rect x="510.54" y="325.06" width="5.53" height="115.04" fill="url(#hatch)" />
<line x1="51.20" y1="312.50" x2="51.20" y2="441.00" stroke="#000" stroke-width="1.8" />
<line x1="504.40" y1="314.50" x2="504.40" y2="323.00" stroke="#999" stroke-width="1.0" />
<line x1="502.60" y1="314.50" x2="506.20" y2="314.50" stroke="#999" stroke-width="1.2" />
<line x1="47.30" y1="440.10" x2="51.20" y2="440.10" stroke="#000" stroke-width="1.5" />
<text transform="translate(45.9,443.00) scale(0.93,1)" font-size="9.6" font-weight="bold" text-anchor="end">0</text>
<line x1="47.30" y1="408.43" x2="51.20" y2="408.43" stroke="#000" stroke-width="1.5" />
<text transform="translate(45.9,411.32) scale(0.93,1)" font-size="9.6" font-weight="bold" text-anchor="end">25</text>
<line x1="47.30" y1="376.75" x2="51.20" y2="376.75" stroke="#000" stroke-width="1.5" />
<text transform="translate(45.9,379.65) scale(0.93,1)" font-size="9.6" font-weight="bold" text-anchor="end">50</text>
<line x1="47.30" y1="345.08" x2="51.20" y2="345.08" stroke="#000" stroke-width="1.5" />
<text transform="translate(45.9,347.98) scale(0.93,1)" font-size="9.6" font-weight="bold" text-anchor="end">75</text>
<line x1="47.30" y1="313.40" x2="51.20" y2="313.40" stroke="#000" stroke-width="1.5" />
<text transform="translate(45.9,316.30) scale(0.93,1)" font-size="9.6" font-weight="bold" text-anchor="end">100</text>
<line x1="50.30" y1="440.10" x2="519.00" y2="440.10" stroke="#000" stroke-width="1.8" />
<line x1="66.50" y1="440.10" x2="66.50" y2="443.80" stroke="#000" stroke-width="1.3" />
<rect x="65.80" y="449.70" width="2.60" height="1.40" fill="#000" />
<line x1="97.83" y1="440.10" x2="97.83" y2="443.80" stroke="#000" stroke-width="1.3" />
<text x="97.83" y="452.60" font-size="9.2" font-weight="bold" text-anchor="middle" >wt</text>
<line x1="129.16" y1="440.10" x2="129.16" y2="443.80" stroke="#000" stroke-width="1.3" />
<text x="129.16" y="452.60" font-size="9.2" font-weight="bold" text-anchor="middle" >R59A</text>
<line x1="160.49" y1="440.10" x2="160.49" y2="443.80" stroke="#000" stroke-width="1.3" />
<text x="160.49" y="452.60" font-size="9.2" font-weight="bold" text-anchor="middle" >E61A</text>
<line x1="191.82" y1="440.10" x2="191.82" y2="443.80" stroke="#000" stroke-width="1.3" />
<text x="191.82" y="452.60" font-size="9.2" font-weight="bold" text-anchor="middle" >N69A</text>
<line x1="223.15" y1="440.10" x2="223.15" y2="443.80" stroke="#000" stroke-width="1.3" />
<text x="223.15" y="452.60" font-size="9.2" font-weight="bold" text-anchor="middle" >E111A</text>
<line x1="254.48" y1="440.10" x2="254.48" y2="443.80" stroke="#000" stroke-width="1.3" />
<text x="254.48" y="452.60" font-size="9.2" font-weight="bold" text-anchor="middle" >Q112A</text>
<line x1="285.81" y1="440.10" x2="285.81" y2="443.80" stroke="#000" stroke-width="1.3" />
<text x="285.81" y="452.60" font-size="9.2" font-weight="bold" text-anchor="middle" >R65A</text>
<line x1="317.14" y1="440.10" x2="317.14" y2="443.80" stroke="#000" stroke-width="1.3" />
<text x="317.14" y="452.60" font-size="9.2" font-weight="bold" text-anchor="middle" >S66E</text>
<line x1="348.47" y1="440.10" x2="348.47" y2="443.80" stroke="#000" stroke-width="1.3" />
<text x="348.47" y="452.60" font-size="9.2" font-weight="bold" text-anchor="middle" >R62A</text>
<line x1="379.80" y1="440.10" x2="379.80" y2="443.80" stroke="#000" stroke-width="1.3" />
<text x="379.80" y="452.60" font-size="9.2" font-weight="bold" text-anchor="middle" >S92H</text>
<line x1="411.13" y1="440.10" x2="411.13" y2="443.80" stroke="#000" stroke-width="1.3" />
<text x="411.13" y="452.60" font-size="9.2" font-weight="bold" text-anchor="middle" >E93A</text>
<line x1="442.46" y1="440.10" x2="442.46" y2="443.80" stroke="#000" stroke-width="1.3" />
<text x="442.46" y="452.60" font-size="9.2" font-weight="bold" text-anchor="middle" >G94H</text>
<line x1="473.79" y1="440.10" x2="473.79" y2="443.80" stroke="#000" stroke-width="1.3" />
<text x="473.79" y="452.60" font-size="9.2" font-weight="bold" text-anchor="middle" >D73A</text>
<line x1="505.12" y1="440.10" x2="505.12" y2="443.80" stroke="#000" stroke-width="1.3" />
<text x="505.12" y="452.60" font-size="9.2" font-weight="bold" text-anchor="middle" >R85A</text>
<text transform="translate(31,420.1) rotate(-90) scale(1.135,1)" font-size="9.5" font-weight="bold">positive cells (%)</text>
<text x="1.40" y="290.80" font-size="18.5" font-weight="bold" text-anchor="start" >B</text>
<rect x="53.40" y="301.30" width="2.10" height="10.00" fill="#000" />
<rect x="113.10" y="301.30" width="2.10" height="10.00" fill="#000" />
<polygon points="55.5,306.1 61.8,301.5 61.8,310.7" fill="#000" />
<polygon points="113.1,306.1 106.8,301.5 106.8,310.7" fill="#000" />
<line x1="60.40" y1="306.10" x2="108.20" y2="306.10" stroke="#000" stroke-width="2.4" />
<rect x="118.80" y="301.30" width="2.10" height="10.00" fill="#000" />
<rect x="266.40" y="301.30" width="2.10" height="10.00" fill="#000" />
<polygon points="120.9,306.1 127.2,301.5 127.2,310.7" fill="#000" />
<polygon points="266.4,306.1 260.1,301.5 260.1,310.7" fill="#000" />
<line x1="125.80" y1="306.10" x2="261.50" y2="306.10" stroke="#000" stroke-width="2.4" />
<rect x="270.80" y="301.30" width="2.10" height="10.00" fill="#000" />
<rect x="328.80" y="301.30" width="2.10" height="10.00" fill="#000" />
<polygon points="272.9,306.1 279.2,301.5 279.2,310.7" fill="#000" />
<polygon points="328.8,306.1 322.5,301.5 322.5,310.7" fill="#000" />
<line x1="277.80" y1="306.10" x2="323.90" y2="306.10" stroke="#000" stroke-width="2.4" />
<rect x="333.00" y="301.30" width="2.10" height="10.00" fill="#000" />
<rect x="452.90" y="301.30" width="2.10" height="10.00" fill="#000" />
<polygon points="335.1,306.1 341.4,301.5 341.4,310.7" fill="#000" />
<polygon points="452.9,306.1 446.6,301.5 446.6,310.7" fill="#000" />
<line x1="340.00" y1="306.10" x2="448.00" y2="306.10" stroke="#000" stroke-width="2.4" />
<rect x="457.00" y="301.30" width="2.10" height="10.00" fill="#000" />
<rect x="515.90" y="301.30" width="2.10" height="10.00" fill="#000" />
<polygon points="459.1,306.1 465.4,301.5 465.4,310.7" fill="#000" />
<polygon points="515.9,306.1 509.6,301.5 509.6,310.7" fill="#000" />
<line x1="464.00" y1="306.10" x2="511.00" y2="306.10" stroke="#000" stroke-width="2.4" />
<text x="84.50" y="297.30" font-size="11.5" font-weight="normal" text-anchor="middle"  stroke="#000" stroke-width="0.4">Controls</text>
<text x="193.90" y="297.30" font-size="11.5" font-weight="normal" text-anchor="middle"  stroke="#000" stroke-width="0.4">Predicted binding site</text>
<text x="301.00" y="297.30" font-size="11.5" font-weight="normal" text-anchor="middle"  stroke="#000" stroke-width="0.4">Unassigned</text>
<text x="394.00" y="297.30" font-size="11.5" font-weight="normal" text-anchor="middle"  stroke="#000" stroke-width="0.4">GpVI binding site</text>
<text x="488.50" y="296.80" font-size="11.5" font-weight="normal" text-anchor="middle"  stroke="#000" stroke-width="0.4">Random</text>
<rect x="55.80" y="606.33" width="6.60" height="4.27" fill="#fff" stroke="#000" stroke-width="1.5"/>
<rect x="63.15" y="605.58" width="8.10" height="5.02" fill="#000" />
<rect x="71.25" y="606.52" width="8.10" height="4.08" fill="#000" />
<rect x="72.45" y="607.92" width="5.20" height="2.68" fill="url(#hatch)" />
<line x1="90.08" y1="502.13" x2="90.08" y2="506.20" stroke="#000" stroke-width="1.3" />
<line x1="87.98" y1="502.13" x2="92.18" y2="502.13" stroke="#000" stroke-width="1.5" />
<rect x="86.78" y="506.95" width="6.60" height="103.65" fill="#fff" stroke="#000" stroke-width="1.5"/>
<line x1="98.18" y1="528.78" x2="98.18" y2="535.36" stroke="#000" stroke-width="1.3" />
<line x1="96.08" y1="528.78" x2="100.28" y2="528.78" stroke="#000" stroke-width="1.5" />
<rect x="94.13" y="535.36" width="8.10" height="75.24" fill="#000" />
<line x1="106.28" y1="579.88" x2="106.28" y2="586.15" stroke="#000" stroke-width="1.3" />
<line x1="104.18" y1="579.88" x2="108.38" y2="579.88" stroke="#000" stroke-width="1.5" />
<rect x="102.23" y="586.15" width="8.10" height="24.45" fill="#000" />
<rect x="103.43" y="587.55" width="5.20" height="23.05" fill="url(#hatch)" />
<rect x="117.76" y="608.22" width="6.60" height="2.38" fill="#fff" stroke="#000" stroke-width="1.5"/>
<rect x="125.11" y="607.47" width="8.10" height="3.13" fill="#000" />
<rect x="133.21" y="605.90" width="8.10" height="4.70" fill="#000" />
<rect x="134.41" y="607.30" width="5.20" height="3.30" fill="url(#hatch)" />
<line x1="152.04" y1="583.01" x2="152.04" y2="586.77" stroke="#000" stroke-width="1.3" />
<line x1="149.94" y1="583.01" x2="154.14" y2="583.01" stroke="#000" stroke-width="1.5" />
<rect x="148.74" y="587.52" width="6.60" height="23.08" fill="#fff" stroke="#000" stroke-width="1.5"/>
<rect x="156.09" y="596.81" width="8.10" height="13.79" fill="#000" />
<rect x="164.19" y="603.70" width="8.10" height="6.90" fill="#000" />
<rect x="165.39" y="605.10" width="5.20" height="5.50" fill="url(#hatch)" />
<line x1="183.02" y1="546.65" x2="183.02" y2="554.17" stroke="#000" stroke-width="1.3" />
<line x1="180.92" y1="546.65" x2="185.12" y2="546.65" stroke="#000" stroke-width="1.5" />
<rect x="179.72" y="554.92" width="6.60" height="55.68" fill="#fff" stroke="#000" stroke-width="1.5"/>
<line x1="191.12" y1="572.04" x2="191.12" y2="578.00" stroke="#000" stroke-width="1.3" />
<line x1="189.02" y1="572.04" x2="193.22" y2="572.04" stroke="#000" stroke-width="1.5" />
<rect x="187.07" y="578.00" width="8.10" height="32.60" fill="#000" />
<line x1="199.22" y1="597.43" x2="199.22" y2="602.14" stroke="#000" stroke-width="1.3" />
<line x1="197.12" y1="597.43" x2="201.32" y2="597.43" stroke="#000" stroke-width="1.5" />
<rect x="195.17" y="602.14" width="8.10" height="8.46" fill="#000" />
<rect x="196.37" y="603.54" width="5.20" height="7.06" fill="url(#hatch)" />
<line x1="214.00" y1="549.15" x2="214.00" y2="556.36" stroke="#000" stroke-width="1.3" />
<line x1="211.90" y1="549.15" x2="216.10" y2="549.15" stroke="#000" stroke-width="1.5" />
<rect x="210.70" y="557.11" width="6.60" height="53.49" fill="#fff" stroke="#000" stroke-width="1.5"/>
<line x1="222.10" y1="575.49" x2="222.10" y2="579.88" stroke="#000" stroke-width="1.3" />
<line x1="220.00" y1="575.49" x2="224.20" y2="575.49" stroke="#000" stroke-width="1.5" />
<rect x="218.05" y="579.88" width="8.10" height="30.72" fill="#000" />
<line x1="230.20" y1="600.57" x2="230.20" y2="601.82" stroke="#000" stroke-width="1.3" />
<line x1="228.10" y1="600.57" x2="232.30" y2="600.57" stroke="#000" stroke-width="1.5" />
<rect x="226.15" y="601.82" width="8.10" height="8.78" fill="#000" />
<rect x="227.35" y="603.22" width="5.20" height="7.38" fill="url(#hatch)" />
<line x1="244.98" y1="511.85" x2="244.98" y2="516.24" stroke="#000" stroke-width="1.3" />
<line x1="242.88" y1="511.85" x2="247.08" y2="511.85" stroke="#000" stroke-width="1.5" />
<rect x="241.68" y="516.99" width="6.60" height="93.61" fill="#fff" stroke="#000" stroke-width="1.5"/>
<line x1="253.08" y1="506.20" x2="253.08" y2="512.16" stroke="#000" stroke-width="1.3" />
<line x1="250.98" y1="506.20" x2="255.18" y2="506.20" stroke="#000" stroke-width="1.5" />
<rect x="249.03" y="512.16" width="8.10" height="98.44" fill="#000" />
<line x1="261.18" y1="564.83" x2="261.18" y2="565.46" stroke="#000" stroke-width="1.3" />
<line x1="259.08" y1="564.83" x2="263.28" y2="564.83" stroke="#000" stroke-width="1.5" />
<rect x="257.13" y="565.46" width="8.10" height="45.14" fill="#000" />
<rect x="258.33" y="566.86" width="5.20" height="43.74" fill="url(#hatch)" />
<line x1="275.96" y1="546.96" x2="275.96" y2="557.93" stroke="#000" stroke-width="1.3" />
<line x1="273.86" y1="546.96" x2="278.06" y2="546.96" stroke="#000" stroke-width="1.5" />
<rect x="272.66" y="558.68" width="6.60" height="51.92" fill="#fff" stroke="#000" stroke-width="1.5"/>
<line x1="284.06" y1="593.67" x2="284.06" y2="597.12" stroke="#000" stroke-width="1.3" />
<line x1="281.96" y1="593.67" x2="286.16" y2="593.67" stroke="#000" stroke-width="1.5" />
<rect x="280.01" y="597.12" width="8.10" height="13.48" fill="#000" />
<rect x="288.11" y="606.21" width="8.10" height="4.39" fill="#000" />
<rect x="289.31" y="607.61" width="5.20" height="2.99" fill="url(#hatch)" />
<line x1="306.94" y1="491.78" x2="306.94" y2="498.37" stroke="#000" stroke-width="1.3" />
<line x1="304.84" y1="491.78" x2="309.04" y2="491.78" stroke="#000" stroke-width="1.5" />
<rect x="303.64" y="499.12" width="6.60" height="111.48" fill="#fff" stroke="#000" stroke-width="1.5"/>
<line x1="315.04" y1="489.90" x2="315.04" y2="498.37" stroke="#000" stroke-width="1.3" />
<line x1="312.94" y1="489.90" x2="317.14" y2="489.90" stroke="#000" stroke-width="1.5" />
<rect x="310.99" y="498.37" width="8.10" height="112.23" fill="#000" />
<line x1="323.14" y1="543.82" x2="323.14" y2="547.90" stroke="#000" stroke-width="1.3" />
<line x1="321.04" y1="543.82" x2="325.24" y2="543.82" stroke="#000" stroke-width="1.5" />
<rect x="319.09" y="547.90" width="8.10" height="62.70" fill="#000" />
<rect x="320.29" y="549.30" width="5.20" height="61.30" fill="url(#hatch)" />
<line x1="337.92" y1="526.27" x2="337.92" y2="532.54" stroke="#000" stroke-width="1.3" />
<line x1="335.82" y1="526.27" x2="340.02" y2="526.27" stroke="#000" stroke-width="1.5" />
<rect x="334.62" y="533.29" width="6.60" height="77.31" fill="#fff" stroke="#000" stroke-width="1.5"/>
<line x1="346.02" y1="557.62" x2="346.02" y2="562.01" stroke="#000" stroke-width="1.3" />
<line x1="343.92" y1="557.62" x2="348.12" y2="557.62" stroke="#000" stroke-width="1.5" />
<rect x="341.97" y="562.01" width="8.10" height="48.59" fill="#000" />
<rect x="350.07" y="602.14" width="8.10" height="8.46" fill="#000" />
<rect x="351.27" y="603.54" width="5.20" height="7.06" fill="url(#hatch)" />
<text x="377.00" y="605.40" font-size="14.5" font-weight="normal" text-anchor="middle"  stroke="#000" stroke-width="0.4">nt</text>
<line x1="399.88" y1="499.93" x2="399.88" y2="503.70" stroke="#000" stroke-width="1.3" />
<line x1="397.78" y1="499.93" x2="401.98" y2="499.93" stroke="#000" stroke-width="1.5" />
<rect x="396.58" y="504.45" width="6.60" height="106.15" fill="#fff" stroke="#000" stroke-width="1.5"/>
<line x1="407.98" y1="520.63" x2="407.98" y2="525.01" stroke="#000" stroke-width="1.3" />
<line x1="405.88" y1="520.63" x2="410.08" y2="520.63" stroke="#000" stroke-width="1.5" />
<rect x="403.93" y="525.01" width="8.10" height="85.59" fill="#000" />
<line x1="416.08" y1="550.09" x2="416.08" y2="566.40" stroke="#000" stroke-width="1.3" />
<line x1="413.98" y1="550.09" x2="418.18" y2="550.09" stroke="#000" stroke-width="1.5" />
<rect x="412.03" y="566.40" width="8.10" height="44.20" fill="#000" />
<rect x="413.23" y="567.80" width="5.20" height="42.80" fill="url(#hatch)" />
<text x="438.96" y="605.40" font-size="14.5" font-weight="normal" text-anchor="middle"  stroke="#000" stroke-width="0.4">nt</text>
<text x="469.94" y="605.40" font-size="14.5" font-weight="normal" text-anchor="middle"  stroke="#000" stroke-width="0.4">nt</text>
<text x="500.92" y="605.40" font-size="14.5" font-weight="normal" text-anchor="middle"  stroke="#000" stroke-width="0.4">nt</text>
<line x1="52.10" y1="484.30" x2="52.10" y2="611.50" stroke="#000" stroke-width="1.8" />
<line x1="48.40" y1="610.60" x2="52.10" y2="610.60" stroke="#000" stroke-width="1.5" />
<text transform="translate(46.4,613.50) scale(0.93,1)" font-size="9.6" font-weight="bold" text-anchor="end">0</text>
<line x1="48.40" y1="579.25" x2="52.10" y2="579.25" stroke="#000" stroke-width="1.5" />
<text transform="translate(46.4,582.15) scale(0.93,1)" font-size="9.6" font-weight="bold" text-anchor="end">10</text>
<line x1="48.40" y1="547.90" x2="52.10" y2="547.90" stroke="#000" stroke-width="1.5" />
<text transform="translate(46.4,550.80) scale(0.93,1)" font-size="9.6" font-weight="bold" text-anchor="end">20</text>
<line x1="48.40" y1="516.55" x2="52.10" y2="516.55" stroke="#000" stroke-width="1.5" />
<text transform="translate(46.4,519.45) scale(0.93,1)" font-size="9.6" font-weight="bold" text-anchor="end">30</text>
<line x1="48.40" y1="485.20" x2="52.10" y2="485.20" stroke="#000" stroke-width="1.5" />
<text transform="translate(46.4,488.10) scale(0.93,1)" font-size="9.6" font-weight="bold" text-anchor="end">40</text>
<line x1="51.20" y1="610.60" x2="516.50" y2="610.60" stroke="#000" stroke-width="1.8" />
<line x1="67.20" y1="610.60" x2="67.20" y2="614.20" stroke="#000" stroke-width="1.3" />
<rect x="66.30" y="620.60" width="2.60" height="1.40" fill="#000" />
<line x1="98.18" y1="610.60" x2="98.18" y2="614.20" stroke="#000" stroke-width="1.3" />
<text x="98.18" y="623.40" font-size="9.2" font-weight="bold" text-anchor="middle" >wt</text>
<line x1="129.16" y1="610.60" x2="129.16" y2="614.20" stroke="#000" stroke-width="1.3" />
<text x="129.16" y="623.40" font-size="9.2" font-weight="bold" text-anchor="middle" >R59A</text>
<line x1="160.14" y1="610.60" x2="160.14" y2="614.20" stroke="#000" stroke-width="1.3" />
<text x="160.14" y="623.40" font-size="9.2" font-weight="bold" text-anchor="middle" >E61A</text>
<line x1="191.12" y1="610.60" x2="191.12" y2="614.20" stroke="#000" stroke-width="1.3" />
<text x="191.12" y="623.40" font-size="9.2" font-weight="bold" text-anchor="middle" >N69A</text>
<line x1="222.10" y1="610.60" x2="222.10" y2="614.20" stroke="#000" stroke-width="1.3" />
<text x="222.10" y="623.40" font-size="9.2" font-weight="bold" text-anchor="middle" >E111A</text>
<line x1="253.08" y1="610.60" x2="253.08" y2="614.20" stroke="#000" stroke-width="1.3" />
<text x="253.08" y="623.40" font-size="9.2" font-weight="bold" text-anchor="middle" >Q112A</text>
<line x1="284.06" y1="610.60" x2="284.06" y2="614.20" stroke="#000" stroke-width="1.3" />
<text x="284.06" y="623.40" font-size="9.2" font-weight="bold" text-anchor="middle" >R65A</text>
<line x1="315.04" y1="610.60" x2="315.04" y2="614.20" stroke="#000" stroke-width="1.3" />
<text x="315.04" y="623.40" font-size="9.2" font-weight="bold" text-anchor="middle" >S66E</text>
<line x1="346.02" y1="610.60" x2="346.02" y2="614.20" stroke="#000" stroke-width="1.3" />
<text x="346.02" y="623.40" font-size="9.2" font-weight="bold" text-anchor="middle" >R62A</text>
<line x1="377.00" y1="610.60" x2="377.00" y2="614.20" stroke="#000" stroke-width="1.3" />
<text x="377.00" y="623.40" font-size="9.2" font-weight="bold" text-anchor="middle" >S92H</text>
<line x1="407.98" y1="610.60" x2="407.98" y2="614.20" stroke="#000" stroke-width="1.3" />
<text x="407.98" y="623.40" font-size="9.2" font-weight="bold" text-anchor="middle" >E93A</text>
<line x1="438.96" y1="610.60" x2="438.96" y2="614.20" stroke="#000" stroke-width="1.3" />
<text x="438.96" y="623.40" font-size="9.2" font-weight="bold" text-anchor="middle" >G94H</text>
<line x1="469.94" y1="610.60" x2="469.94" y2="614.20" stroke="#000" stroke-width="1.3" />
<text x="469.94" y="623.40" font-size="9.2" font-weight="bold" text-anchor="middle" >D73A</text>
<line x1="500.92" y1="610.60" x2="500.92" y2="614.20" stroke="#000" stroke-width="1.3" />
<text x="500.92" y="623.40" font-size="9.2" font-weight="bold" text-anchor="middle" >R85A</text>
<text transform="translate(31,592.2) rotate(-90) scale(1.08,1)" font-size="9.5" font-weight="bold">adherent cells (%)</text>
<text x="1.00" y="483.30" font-size="18.5" font-weight="bold" text-anchor="start" >C</text>
<text x="283.50" y="638.60" font-size="10" font-weight="bold" text-anchor="middle" >K562 transfectants</text>
</svg></body></html>
